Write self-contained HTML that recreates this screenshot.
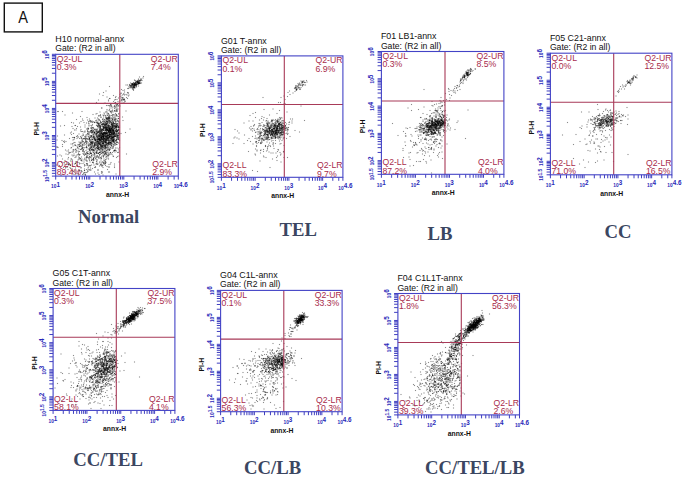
<!DOCTYPE html>
<html><head><meta charset="utf-8"><style>
html,body{margin:0;padding:0;background:#fff;width:685px;height:482px;overflow:hidden}
svg{display:block;font-family:"Liberation Sans", sans-serif}
</style></head><body>
<svg width="685" height="482" viewBox="0 0 685 482"><defs><marker id="d" markerUnits="userSpaceOnUse" markerWidth="2.2" markerHeight="2.2" refX="1.1" refY="1.1" overflow="visible"><rect width="2.2" height="2.2" fill="#000" fill-opacity="0.45"/></marker></defs><rect width="685" height="482" fill="#fff"/><rect x="4.3" y="3.1" width="38" height="28.8" fill="none" stroke="#111" stroke-width="1.4"/><text transform="translate(23.1 23.0) scale(0.86 1)" font-size="17" text-anchor="middle" fill="#111">A</text><text x="55.2" y="41.9" font-size="9" fill="#111">H10 normal-annx</text><text x="55.2" y="51.3" font-size="8.65" fill="#111">Gate: (R2 in all)</text><text x="220.9" y="43.5" font-size="8.8" fill="#111">G01 T-annx</text><text x="220.9" y="52.9" font-size="8.65" fill="#111">Gate: (R2 in all)</text><text x="380.9" y="39.1" font-size="8.85" fill="#111">F01 LB1-annx</text><text x="380.9" y="48.5" font-size="8.65" fill="#111">Gate: (R2 in all)</text><text x="549.9" y="40.8" font-size="8.85" fill="#111">F05 C21-annx</text><text x="549.9" y="50.2" font-size="8.65" fill="#111">Gate: (R2 in all)</text><text x="52.6" y="276.1" font-size="8.85" fill="#111">G05 C1T-annx</text><text x="52.6" y="285.5" font-size="8.65" fill="#111">Gate: (R2 in all)</text><text x="220.1" y="278" font-size="8.85" fill="#111">G04 C1L-annx</text><text x="220.1" y="287.4" font-size="8.65" fill="#111">Gate: (R2 in all)</text><text x="397.4" y="281.1" font-size="8.75" fill="#111">F04 C1L1T-annx</text><text x="397.4" y="290.5" font-size="8.65" fill="#111">Gate: (R2 in all)</text><g transform="scale(0.5)"><polyline points="218 267 224 240 228 247 214 277 217 275 208 271 227 262 216 267 208 239 162 259 222 275 224 257 198 252 199 259 234 273 201 230 210 266 222 276 226 259 212 284 196 284 198 265 179 278 208 279 223 285 200 281 207 295 212 261 217 244 226 282 221 290 235 275 221 253 202 259 212 248 227 251 219 274 210 281 207 248 221 265 230 252 200 283 207 274 203 275 199 294 219 266 225 261 200 269 237 252 225 254 205 239 226 265 226 251 208 291 222 257 223 257 195 290 220 261 209 265 209 240 227 289 201 252 217 258 211 283 227 262 220 273 229 267 221 284 233 255 204 259 226 260 229 247 234 238 199 289 215 254 208 261 210 285 237 255 218 300 233 268 235 252 193 283 214 272 198 281 207 250 235 247 191 286 205 269 230 269 201 270 210 253 213 264 216 271 203 272 219 259 229 271 218 270 204 260 196 278 204 266 233 252 203 258 196 283 239 255 223 260 234 231 211 260 211 273 202 289 193 264 221 287 226 261 209 280 215 272 202 261 216 261 232 254 226 275 228 255 182 243 218 260 192 296 209 296 233 262 231 296 236 272 235 271 214 243 237 261 220 273 202 270 212 281 214 276 197 276 208 272 212 265 221 265 208 266 197 295 197 249 216 261 214 237 219 254 213 279 207 275 226 257 233 229 214 285 207 247 218 256 225 260 215 251 220 265 225 270 186 274 213 267 203 272 200 247 208 270 217 251 239 268 212 254 236 278 212 260 228 290 219 273 214 276 228 268 224 274 236 272 215 299 224 252 195 264 182 251 210 265 216 280 223 266 210 274 199 276 199 271 230 247 220 269 185 265 223 273 183 272 237 242 191 280 219 257 213 249 187 274 218 260 219 243 215 259 222 248 213 259 210 252 192 245 222 256 207 281 212 242 210 272 191 269 220 261 233 258 213 276 218 251 218 280 210 263 220 268 193 302 216 261 191 267 213 280 187 274 188 277 194 268 234 263 236 243 195 246 237 259 232 288 208 307 213 259 222 261 215 276 228 270 224 259 195 267 204 292 219 274 201 256 208 267 231 256 238 244 215 276 232 264 233 259 224 256 217 240 217 277 238 269 260 258 226 255 208 273 237 271 224 264 215 280 229 239 205 287 215 252 214 265 200 280 227 246 201 242 193 273 227 261 210 271 188 286 211 279 226 269 232 266 211 256 217 265 219 257 205 260 217 237 217 263 212 254 201 278 205 273 232 243 237 279 204 261 219 260 203 265 218 261 207 274 229 272 183 273 233 249 224 287 191 281 211 267 203 262 194 240 200 279 232 272 183 265 223 264 213 271 227 273 201 297 199 278 225 264 199 250 209 277 228 274 203 273 203 276 207 258 196 247 225 254 219 266 196 265 225 270 236 254 173 294 198 251 212 284 229 264 213 267 237 237 225 251 226 253 214 259 197 248 227 269 219 236 220 256 209 267 234 252 203 249 226 278 212 282 216 280 219 286 173 294 200 224 226 262 225 281 217 255 220 260 187 300 196 252 217 253 231 240 228 242 216 295 188 294 208 243 237 286 219 245 220 273 234 279 192 280 210 249 220 281 221 262 211 249 205 258 216 258 225 275 223 254 228 266 224 288 220 285 226 279 214 239 232 272 212 276 205 274 208 255 205 248 214 248 200 282 198 263 207 260 231 240 192 302 219 258 208 272 234 273 207 269 226 267 226 236 224 265 223 262 222 263 202 271 213 250 211 266 201 272 225 276 221 277 215 245 221 272 205 268 239 252 224 249 219 236 233 268 219 272 199 260 195 252 223 249 207 254 194 282 221 272 211 298 215 261 213 294 211 293 214 260 200 252 203 295 231 262 210 298 223 290 200 263 216 270 195 282 228 265 178 247 225 282 188 277 219 278 224 250 197 290 216 277 220 266 221 244 214 276 207 275 228 267 207 266 230 287 232 254 223 266 205 260 213 248 194 292 219 270 215 292 215 247 223 269 221 276 193 307 228 260 226 234 218 286 218 251 231 262 182 271 235 261 226 242 229 273 232 283 237 267 186 275 209 256 222 245 206 288 232 257 212 273 193 295 220 273 210 285 236 278 201 281 231 255 190 258 208 249 202 267 201 259 233 253 228 273 207 267 196 278 226 247 227 258 207 265 223 267 206 282 206 282 213 284 221 262 221 264 223 292 225 256 233 263 219 264 225 249 208 265 207 260 222 260 210 261 222 252 211 293 233 247 217 286 216 271 206 291 218 253 234 251 234 263 205 295 208 278 218 280 193 267 222 244 222 268 223 274 218 256 202 276 201 274 203 275 211 249 207 248 223 258 214 236 190 274 203 267 208 254 201 285 205 269 228 252 221 243 223 245 221 270 216 272 225 248 214 274 222 263 234 250 226 285 204 270 219 270 227 262 220 257 207 253 229 265 198 288 205 277 218 264 204 278 190 275 203 284 187 261 213 268 189 265 215 259 211 265 227 245 224 267 199 277 209 265 199 274 239 270 207 286 237 253 212 247 195 297 214 244 195 265 177 273 230 273 202 294 205 243 190 286 195 312 231 271 229 221 203 268 215 244 207 255 205 264 238 246 198 279 220 255 226 267 204 290 228 236 193 268 235 241 220 269 229 283 231 243 221 265 231 273 236 264 200 286 201 291 238 259 203 277 232 278 183 261 205 259 212 295 197 272 217 270 223 278 226 245 204 291 214 265 212 267 222 258 232 270 199 261 215 259 217 276 210 248 200 252 212 279 215 266 219 259 200 263 225 238 185 288 180 275 196 277 228 281 226 266 226 246 229 285 186 298 174 283 235 260 214 260 204 288 231 252 198 287 231 252 226 239 192 261 210 288 225 253 204 282 222 250 182 262 214 243 229 277 203 264 200 273 205 249 186 285 208 265 208 268 223 256 194 276 232 238 211 269 204 283 232 246 215 270 206 278 210 259 216 284 202 260 220 231 211 251 223 269 209 250 227 278 226 254 213 240 209 268 233 280 238 227 209 248 218 272 225 275 198 276 226 258 207 280 220 282 239 281 213 266 218 287 205 269 213 278 222 242 199 267 212 276 233 231 216 281 229 241 233 249 213 267 194 280 222 261 234 267 205 254 233 253 231 246 194 270 236 250 209 255 207 272 223 281 221 223 230 255 197 292 208 255 218 272 216 271 206 269 208 295 214 242 209 283 208 268 198 263 204 273 222 253 228 268 193 260 202 276 205 267 242 267 207 253 228 272 195 253 215 272 217 261 195 292 229 238 187 257 194 258 220 264 208 257 216 281 189 278 211 256 219 239 215 288 192 271 209 277 231 268 235 285 202 234 207 276 208 284 178 275 204 284 203 281 204 290 214 256 211 277 184 285 206 277 196 278 218 236 211 290 204 292 196 272 226 248 227 284 212 282 207 258 231 250 199 284 208 268 189 274 225 251 199 252 218 251 188 292 227 270 195 279 209 292 208 275 204 263 197 232 213 246 205 248 202 276 227 260 227 280 230 250 193 266 202 322 212 274 219 257 200 255 232 260 225 262 236 274 219 282 224 272 229 274 205 271 197 276 217 263 216 242 222 256 219 256 228 265 201 245 229 252 199 248 212 255 229 252 225 232 214 256 221 261 205 252 203 284 234 255 201 257 194 288 224 277 192 286 207 282 222 271 202 275 238 261 200 288 210 253 228 263 235 261 213 257 221 269 228 279 232 253 218 285 234 271 214 266 225 269 210 266 207 273 214 257 219 262 223 257 225 263 226 264 218 242 191 279 219 269 205 286 220 263 225 305 214 288 215 266 236 271 223 265 218 232 205 279 190 293 230 291 196 252 208 291 238 248 237 266 222 262 217 264 206 268 216 262 194 279 221 259 227 280 210 251 206 246 203 279 213 288 208 298 214 255 207 277 192 241 202 269 194 299 188 266 198 246 212 246 200 287 200 304 229 301 227 282 194 260 185 255 229 257 239 264 211 242 200 273 213 261 214 269 197 283 233 260 227 275 211 273 218 246 222 241 231 262 218 300 213 273 204 273 226 274 216 256 237 254 232 259 227 282 238 265 218 254 223 277 219 234 232 269 233 302 238 255 218 275 225 260 205 294 213 263 211 285 202 277 189 287 246 241 215 268 204 248 217 270 208 245 210 294 220 264 214 274 230 267 211 256 173 258 193 290 207 282 236 267 216 255 220 259 195 296 180 298 207 273 215 274 200 266 236 277 207 261 202 283 203 275 213 259 223 271 226 277 219 276 218 290 175 263 216 310 218 275 210 303 210 268 199 279 217 257 211 322 206 286 204 274 189 259 228 266 208 276 219 267 227 275 182 307 178 318 214 271 205 302 216 287 200 290 211 245 235 269 194 320 189 265 201 296 171 308 179 242 197 287 223 287 234 222 214 247 236 274 176 279 165 298 218 253 204 299 211 291 186 286 198 278 245 234 189 286 182 279 187 266 216 287 175 307 199 305 185 279 186 301 187 310 189 310 200 299 205 293 169 318 200 305 191 282 170 309 204 302 219 301 226 279 189 335 211 270 188 292 213 289 222 279 210 325 209 322 170 264 225 279 180 288 142 288 193 305 204 275 215 256 171 279 178 279 193 286 174 269 181 304 193 296 201 279 206 287 199 284 164 292 174 284 189 302 233 275 228 256 198 271 230 253 166 268 179 278 170 308 202 279 186 290 197 279 190 259 186 283 183 312 170 262 180 271 195 280 234 289 206 298 218 310 251 265 212 256 197 286 165 289 209 309 217 286 224 274 202 296 206 284 198 296 220 298 181 282 165 294 218 263 220 296 226 260 188 292 217 289 213 272 137 300 161 299 181 241 198 279 161 317 194 305 214 333 182 287 228 251 184 291 193 205 184 279 176 290 232 254 204 253 205 238 218 260 209 246 158 310 181 297 221 285 226 297 193 251 210 308 221 261 226 283 201 253 223 283 197 247 198 273 179 283 230 301 228 302 185 325 213 285 193 276 231 301 213 313 223 284 210 268 183 294 206 275 235 284 200 255 186 304 208 326 215 294 209 328 193 306 208 318 222 278 198 298 151 327 176 268 206 324 185 290 160 309 198 315 184 277 178 269 172 301 186 299 189 307 210 289 212 301 176 310 217 277 186 299 197 269 190 310 210 284 226 312 210 292 198 266 217 284 199 279 227 302 151 291 188 279 151 324 162 335 192 291 172 270 198 231 214 274 216 311 202 271 227 267 196 264 184 260 220 299 194 314 179 300 169 311 221 289 200 295 183 295 211 281 190 297 213 258 223 236 222 287 181 294 156 302 227 292 187 317 219 262 174 323 171 276 196 290 198 296 177 307 182 284 210 279 177 264 172 319 181 289 184 264 211 260 195 293 198 270 208 304 200 264 170 349 222 281 180 290 212 315 129 328 189 314 212 273 164 280 171 284 197 264 206 279 191 298 197 288 189 289 201 262 194 250 225 242 224 272 227 283 195 275 233 278 162 288 189 265 229 257 172 289 204 250 199 269 218 306 178 290 194 311 235 248 227 262 207 286 213 288 169 285 168 324 173 327 181 290 203 292 164 296 225 276 199 264 199 277 180 332 213 302 191 278 168 303 176 343 191 207 231 288 213 309 213 237 238 275 214 279 211 285 179 238 219 247 199 280 190 284 205 267 145 341 159 246 190 290 189 276 195 287 199 271 202 282 206 286 224 309 196 264 216 316 214 260 156 309 182 261 221 285 154 292 206 305 229 260 189 280 174 295 208 279 213 291 211 271 229 234 208 291 184 266 200 309 200 286 183 271 198 255 205 268 159 277 212 312 239 267 166 291 212 267 218 275 189 266 192 228 182 256 218 299 201 292 201 243 223 278 222 246 184 283 186 284 185 287 230 299 173 287 211 259 226 294 205 324 132 335 198 349 176 266 230 304 170 274 217 284 148 311 137 304 183 330 208 288 211 268 211 276 196 285 173 308 198 253 204 298 200 285 195 283 183 287 183 296 166 277 172 308 189 266 216 304 204 250 160 317 221 259 211 296 204 293 186 302 218 329 173 316 221 269 238 324 199 257 229 279 198 300 176 272 184 284 231 273 180 263 200 278 227 281 195 283 173 295 213 249 216 246 174 304 225 274 206 279 187 317 209 282 217 334 192 290 213 243 200 289 143 318 183 321 200 326 228 270 181 294 170 316 227 266 222 294 200 272 179 296 201 289 170 331 187 315 173 292 195 286 230 281 185 298 186 294 207 287 229 328 188 273 180 313 218 264 195 301 196 244 210 303 219 289 199 310 183 299 179 321 203 279 208 301 195 289 192 318 159 292 184 293 165 238 203 276 200 309 201 275 187 269 231 236 194 263 216 249 183 289 199 240 164 297 235 305 190 288 178 339 156 297 219 258 217 280 221 254 196 273 145 344 205 279 202 307 209 310 172 277 155 274 180 302 222 258 219 284 204 312 182 285 211 279 177 257 193 323 196 297 184 312 141 305 211 261 196 293 190 291 193 314 233 284 229 288 214 262 204 333 207 284 217 290 223 249 179 266 148 275 202 288 182 285 226 253 225 281 183 257 176 258 219 269 197 299 179 300 158 318 197 238 208 272 200 261 207 289 174 298 228 264 187 305 202 303 201 330 211 291 205 300 220 285 183 292 175 314 215 277 233 285 233 315 190 262 168 320 167 270 212 253 183 254 202 318 227 276 181 274 218 273 186 324 217 318 218 288 207 280 208 271 209 293 201 293 201 268 197 250 188 330 183 282 192 285 215 291 217 262 193 327 192 259 180 331 166 284 167 277 179 277 190 299 180 287 172 274 213 306 152 312 173 313 196 297 202 267 223 268 200 281 201 315 194 273 196 256 205 284 166 295 204 291 197 284 167 309 187 318 229 266 115 294 198 277 197 292 232 261 202 264 167 288 224 259 200 305 204 216 206 230 189 279 174 235 194 273 196 314 202 248 209 277 201 255 225 267 235 262 238 279 199 287 217 296 213 281 190 281 218 308 224 237 211 276 199 312 187 274 197 297 184 285 193 288 175 267 195 296 208 226 218 274 192 305 203 306 184 251 171 282 201 252 166 307 205 305 226 243 145 332 179 274 208 255 191 281 184 299 162 285 162 327 185 319 206 287 171 280 212 295 210 297 210 282 152 304 172 272 195 292 179 277 164 286 175 342 225 282 224 275 227 280 211 234 228 286 195 294 216 279 203 329 211 285 222 307 182 307 216 253 209 251 206 272 189 245 228 248 196 285 168 306 149 276 180 242 215 288 159 303 193 270 234 254 198 241 183 285 198 279 196 307 211 323 210 303 187 255 225 255 182 301 203 261 210 290 220 309 213 254 211 306 178 277 211 326 179 318 205 331 201 291 218 298 206 298 152 314 181 315 207 270 203 266 165 290 193 268 185 263 236 276 157 274 228 253 186 282 207 236 228 273 170 295 214 305 203 275 224 266 174 311 202 302 226 282 202 267 182 306 212 325 200 267 210 328 199 273 208 257 175 261 140 330 195 236 212 251 203 297 182 273 214 268 179 281 158 334 151 336 194 271 197 295 147 246 177 286 223 274 183 244 139 305 177 316 148 349 169 329 181 296 144 341 182 340 213 211 139 277 123 325 190 314 185 256 148 279 237 298 184 286 201 258 159 310 225 229 163 321 146 280 154 310 179 315 204 294 173 305 192 242 143 245 153 273 203 245 211 257 183 311 201 230 191 278 219 344 232 348 167 299 200 300 183 299 176 331 217 235 130 230 220 216 204 298 184 266 166 283 207 293 187 326 182 300 233 280 180 305 131 336 129 270 225 220 136 339 142 296 196 339 224 290 135 334 206 305 153 324 174 314 132 329 129 285 157 314 233 280 211 305 207 185 168 264 178 292 163 277 208 249 166 303 212 307 124 281 221 295 158 309 175 327 182 275 161 233 227 294 169 287 206 330 167 300 214 296 186 260 208 321 166 301 204 277 160 285 172 345 192 328 162 292 155 295 186 243 168 296 174 331 161 291 162 284 181 244 163 341 219 173 225 294 203 317 137 330 154 324 143 295 214 301 196 341 223 291 173 315 220 258 203 293 158 284 144 337 157 290 149 275 196 328 203 314 229 301 207 232 203 343 139 327 198 299 171 350 156 325 159 293 173 328 163 298 176 263 165 263 150 315 127 283 214 236 238 276 197 272 221 238 197 307 183 320 170 273 170 254 170 277 169 304 173 282 150 289 184 287 214 300 234 263 169 277 190 296 200 300 191 264 145 275 176 315 190 236 187 263 196 282 181 282 173 277 170 346 158 298 159 341 217 263 153 239 146 257 116 223 180 307 150 341 214 228 184 264 165 296 180 264 213 252 211 255 176 257 234 296 194 324 207 242 224 297 183 262 193 263 208 306 141 322 150 251 211 331 196 346 211 295 150 291 140 335 152 298 162 299 147 333 150 285 175 277 217 286 155 324 193 284 217 264 180 331 207 327 116 295 212 288 203 331 222 325 212 280 177 268 206 310 125 318 209 228 184 309 181 336 136 329 184 242 238 259 230 213 191 348 167 346 116 223 206 273 154 330 194 320 203 216 232 229 137 325 169 341 165 280 162 243 155 253 212 287 212 267 234 271 197 200 164 272 153 301 197 314 201 262 178 250 224 251 206 242 189 290 177 246 184 320 175 306 164 322 179 300 219 261 166 241 130 321 156 320 189 291 218 259 188 306 144 253 113 330 150 300 159 326 181 285 217 344 145 320 141 330 149 260 214 259 180 290 156 294 207 267 135 333 233 289 138 307 189 264 146 312 164 343 202 316 204 292 231 238 198 317 156 347 129 282 210 239 199 188 213 318 211 327 212 309 157 350 239 295 151 251 216 312 114 280 147 343 190 289 213 280 196 307 188 320 146 304 182 261 200 232 175 307 144 322 212 182 158 268 162 293 198 239 156 289 128 325 147 267 161 287 134 302 125 289 125 293 215 339 232 253 221 285 125 223 237 256 209 243 208 303 145 226 204 264 192 280 175 329 191 317 146 300 199 305 147 299 176 336 177 290 250 203 190 289 143 264 157 307 161 262 221 305 152 260 129 251 197 286 159 293 176 256 185 270 154 277 197 262 179 309 182 307 186 229 174 279 219 334 195 275 216 308 186 301 185 279 162 276 155 332 156 348 202 280 207 311 227 249 205 272 218 293 187 272 221 328 189 344 178 252 200 281 174 286 210 267 185 249 188 294 187 319 238 312 202 270 206 191 189 277 174 345 191 335 151 299 159 288 159 315 206 270 180 324 229 332 206 272 189 308 207 313 180 340 136 318 141 266 115 312 174 321 163 344 179 313 220 286 207 325 194 244 169 345 177 292 150 344 168 245 140 346 119 331 151 327 122 351 229 335 136 309 172 321 187 270 195 328 153 257 185 245 188 300 144 310 215 276 207 269 217 202 234 219 183 316 216 250 187 295 157 342 196 272 228 262 142 318 234 251 204 307 197 306 234 264 186 325 145 328 177 334 214 297 182 307 208 277 164 223 182 256 204 258 232 281 203 326 159 328 123 312 210 283 185 337 167 348 137 315 146 287 163 275 145 288 200 288 205 344 230 284 168 278 226 273 190 306 161 254 148 275 147 302 216 312 195 260 154 331 120 310 144 304 191 333 218 282 194 245 149 328 161 320 184 274 173 339 164 318 198 279 155 271 141 331 141 337 211 307 158 318 127 335 203 346 216 287 207 257 213 256 169 290 184 294 161 273 235 313 221 305 132 308 163 314 181 264 169 341 177 243 233 264 160 341 206 335 188 244 206 350 173 246 194 329 204 287 194 227 184 260 176 259 223 278 198 280 166 327 152 304 171 350 186 262 121 252 194 303 196 247 113 294 166 271 137 328 221 280 115 272 157 304 165 349 169 332 176 340 189 245 133 324 207 314 237 305 151 347 163 263 162 336 148 285 172 283 146 292 169 338 201 265 211 319 158 340 201 329 199 324 227 313 172 285 192 314 187 321 180 279 188 301 189 270 231 281 124 349 132 283 143 269 163 320 148 308 232 209 175 240 164 282 131 300 194 246 238 302 228 269 253 308 213 256 180 340 137 328 159 289 199 332 178 297 166 283 170 250 178 299 176 303 204 346 196 265 165 302 211 236 230 248 211 224 232 223 216 237 231 232 220 197 224 216 214 236 215 226 214 219 248 199 223 222 223 213 217 200 236 213 216 235 208 231 237 196 226 214 202 245 237 233 227 229 214 222 221 208 233 212 218 250 229 217 220 222 234 242 226 207 218 241 219 242 231 195 232 216 240 212 214 194 215 239 235 222 223 211 234 210 229 211 223 226 219 219 233 220 239 208 224 258 234 199 220 234 252 222 232 193 222 223 247 199 218 211 207 207 234 216 221 261 226 246 223 247 233 222 218 221 237 211 219 212 219 197 219 230 216 211 213 224 213 236 211 246 225 222 211 231 217 227 218 234 219 237 243 179 230 222 219 241 226 224 229 222 216 242 231 205 212 232 229 213 229 230 215 231 217 228 224 247 234 233 220 236 227 203 230 215 214 238 227 191 231 227 202 235 237 207 222 209 225 239 214 237 237 228 216 230 210 206 217 239 217 237 222 225 229 200 223 231 221 210 237 237 221 212 226 231 236 218 217 234 240 202 240 189 232 212 242 192 257 186 258 190 261 166 246 181 248 200 249 206 249 190 252 170 231 199 244 204 255 197 244 195 249 180 248 200 242 187 245 190 247 188 256 177 239 206 230 205 236 207 249 199 253 195 257 192 248 188 242 186 234 210 243 199 252 189 236 203 245 198 240 193 254 190 247 206 235 209 245 196 248 197 256 186 245 200 246 195 242 196 250 202 259 169 232 220 249 184 243 201 266 175 260 175 264 174 264 172 279 161 264 167 268 174 267 176 270 168 273 172 276 168 269 175 266 178 268 166 278 166 275 164 266 175 267 170 277 172 270 176 262 176 273 169 269 171 273 168 278 167 266 169 261 171 268 175 276 166 271 167 274 163 266 167 275 164 264 167 267 172 271 169 269 167 271 172 273 170 277 164 265 170 258 176 272 164 279 154 278 163 265 176 271 162 279 164 276 163 283 160 278 166 255 185 273 164 267 174 264 172 255 170 267 180 268 170 277 162 281 166 276 166 278 161 269 171 266 173 283 158 269 160 269 170 274 162 264 169 281 160 267 180 265 168 270 170 267 165 260 170 276 163 277 167 272 169 275 166 270 174 278 165 266 170 262 171 269 168 270 170 272 166 275 164 281 158 261 173 258 173 271 165 283 166 280 166 273 172 270 170 269 169 284 161 269 168 275 169 263 174 278 165 269 167 273 174 270 170 272 170 287 153 274 163 277 166 263 168 265 178 256 177 269 173 271 165 272 167 262 175 277 167 266 169 279 164 270 170 273 170 265 169 267 171 270 166 274 164 278 167 269 174 261 172 274 165 279 161 266 168 268 169 266 167 274 168 275 161 268 176 270 161 281 162 276 166 265 170 259 171 272 168 277 158 278 167 281 161 269 170 272 168 268 174 275 165 271 170 267 173 268 168 277 168 280 167 278 167 286 156 277 166 263 170 277 160 264 170 263 172 560 245 538 267 540 262 525 260 536 253 520 252 565 260 548 264 563 253 555 252 557 265 552 260 539 246 516 269 554 263 537 257 533 259 539 257 551 265 559 253 534 263 530 265 555 244 567 276 543 250 528 263 568 247 569 255 542 267 561 278 559 258 545 254 544 266 550 262 539 258 558 251 554 265 546 259 537 274 554 266 542 250 551 239 536 264 559 251 546 251 578 245 542 275 599 264 552 266 569 258 536 277 538 246 564 244 555 257 563 251 562 272 551 275 532 251 539 254 552 262 539 267 551 261 552 274 551 276 555 276 545 260 568 263 552 256 566 269 524 245 550 253 543 259 520 263 528 253 562 249 560 246 542 253 514 278 563 264 545 241 556 238 551 267 572 257 555 243 546 260 585 238 544 269 515 257 552 253 560 261 560 257 546 271 552 263 535 250 546 263 559 247 547 274 566 270 550 270 558 278 548 267 572 267 555 267 541 270 555 266 570 257 560 274 533 254 536 249 534 257 576 267 553 256 563 248 562 248 547 265 568 254 552 270 555 255 522 276 547 252 546 266 546 289 553 257 531 263 549 269 509 261 546 256 538 258 577 255 550 247 563 270 505 273 544 263 532 263 570 254 559 235 555 270 550 251 553 266 549 258 559 255 560 261 551 275 538 262 573 248 544 265 533 241 584 242 549 250 547 257 526 253 536 271 571 251 546 262 568 255 533 261 562 250 556 270 546 268 527 280 571 252 554 261 552 262 564 253 536 263 561 245 558 249 558 247 542 266 550 263 559 261 543 259 575 262 567 264 575 258 528 262 541 251 536 248 544 249 559 258 557 252 562 235 568 253 567 246 561 237 559 267 560 257 534 277 549 260 519 273 549 253 555 264 539 259 545 267 568 257 544 251 552 259 555 252 565 254 560 265 563 268 543 240 564 263 548 277 544 259 559 249 542 264 511 272 549 268 569 249 539 279 562 265 543 252 530 275 545 260 517 275 570 258 545 262 557 261 549 256 526 259 544 259 568 252 563 260 545 263 535 248 551 267 530 265 556 266 526 272 539 265 564 261 547 247 543 276 557 276 547 266 552 254 568 261 548 257 528 281 555 254 535 253 565 248 563 249 551 266 557 257 528 268 523 264 548 273 555 258 571 256 543 276 537 266 536 259 538 261 555 269 529 269 560 250 533 275 581 238 543 242 549 251 520 250 554 257 521 268 562 254 539 257 551 250 560 266 560 239 572 261 568 257 561 256 542 266 529 251 564 265 556 263 545 271 544 242 565 258 564 255 536 242 529 262 521 268 541 255 546 264 531 270 565 251 578 249 540 269 559 248 549 264 562 269 553 259 550 263 565 256 563 264 540 248 554 243 539 255 548 254 562 266 560 270 528 271 562 268 531 261 552 254 557 243 530 276 535 269 562 256 552 247 516 259 566 260 541 262 535 274 554 260 539 256 548 249 554 258 552 252 553 264 554 252 558 260 534 237 556 252 535 247 545 274 548 256 567 259 563 256 502 260 554 269 552 261 574 258 542 272 536 269 520 267 528 250 561 249 536 256 536 270 559 270 535 264 541 271 532 242 557 260 537 252 544 270 550 271 524 277 548 268 525 277 536 280 541 257 555 273 545 258 562 244 553 265 560 264 543 265 538 257 576 259 524 265 573 277 539 266 561 261 529 261 558 263 558 274 516 263 539 260 555 241 565 255 558 273 538 252 548 257 528 259 534 262 551 252 549 257 558 247 553 261 561 266 550 267 554 241 590 261 536 270 554 269 541 254 556 253 558 264 542 278 550 251 554 261 549 264 554 256 558 253 549 272 550 245 539 258 567 255 538 255 519 240 543 276 557 265 547 264 539 262 539 266 535 261 534 265 544 274 511 265 555 251 559 275 550 255 564 258 541 261 551 265 512 276 553 260 542 253 557 249 563 257 551 277 527 250 555 258 564 261 562 251 542 264 536 263 548 268 538 279 516 266 556 261 557 262 560 259 537 264 544 242 531 266 525 257 556 254 523 271 546 266 584 246 567 251 559 255 556 248 550 274 545 277 550 274 542 269 557 248 551 268 571 260 540 264 534 250 542 256 564 256 553 256 549 250 552 247 538 275 554 244 544 268 554 260 553 270 551 244 543 262 567 266 555 257 535 250 552 241 543 255 558 267 566 269 543 262 552 267 553 268 552 265 579 244 557 264 531 255 552 260 544 269 540 261 536 274 565 270 545 270 544 261 547 263 540 263 544 262 519 275 551 270 560 257 552 262 563 258 537 254 556 261 548 270 553 266 576 260 531 260 566 241 535 260 538 263 555 260 564 269 566 258 533 261 549 250 564 264 552 249 564 241 550 255 547 264 519 278 522 267 565 264 533 264 552 244 558 247 545 246 566 254 536 244 556 245 547 253 530 273 521 272 547 257 576 255 568 253 564 281 559 242 560 238 542 244 567 242 554 255 545 269 609 241 560 254 548 258 563 258 530 256 533 269 561 259 535 268 527 271 551 266 532 256 517 254 564 236 534 260 532 268 552 263 531 267 543 269 537 246 512 264 531 262 553 251 519 270 530 270 536 265 564 256 569 275 535 263 565 266 558 274 547 286 468 276 546 286 506 242 517 281 548 297 488 287 513 293 551 287 517 285 565 251 534 245 559 221 478 266 546 306 554 275 514 302 524 282 520 247 521 265 550 257 535 294 547 292 560 288 567 264 557 252 557 249 533 269 555 303 516 276 519 266 527 312 495 281 511 310 507 252 520 260 511 235 559 282 522 271 518 247 508 251 538 304 521 285 521 306 505 262 500 231 531 291 553 315 551 250 575 269 545 318 555 253 512 283 556 241 566 274 541 293 534 279 543 282 505 341 562 267 528 279 580 273 515 343 548 260 499 256 478 278 554 227 536 251 568 315 512 285 522 251 498 242 534 284 528 219 470 259 511 225 540 257 535 276 524 285 510 277 537 274 556 244 536 275 561 310 571 252 527 240 522 265 528 235 541 270 568 291 531 292 518 277 514 259 502 253 567 303 523 282 511 298 539 230 532 277 535 300 489 270 498 277 535 297 506 227 514 287 531 279 565 246 533 274 524 233 534 278 568 267 546 218 501 283 518 251 474 276 562 287 536 293 535 270 527 303 540 335 534 257 508 258 573 255 488 246 529 268 552 306 554 321 536 270 522 300 548 241 546 239 539 261 546 281 567 304 574 224 526 276 544 242 575 315 527 259 568 265 497 303 532 315 521 287 523 278 518 264 512 284 531 293 555 312 533 302 521 257 540 291 470 274 521 301 466 287 531 266 562 275 562 324 557 300 522 278 562 308 525 279 527 299 506 288 522 287 602 212 523 237 566 278 547 272 528 314 513 291 561 265 534 272 544 247 502 258 543 262 529 268 561 271 543 267 546 248 519 281 520 273 513 283 551 281 509 249 505 257 520 322 560 305 537 290 528 280 539 286 533 247 546 262 510 308 542 306 514 300 550 252 550 261 475 262 556 299 551 273 559 248 556 239 523 286 574 266 533 278 571 245 526 195 608 165 593 179 602 162 592 180 606 162 602 175 599 166 589 177 610 165 601 178 592 172 604 166 591 175 599 178 600 179 593 178 607 169 608 162 590 175 610 165 605 165 597 176 602 168 614 164 594 176 594 176 593 180 613 161 608 170 592 175 596 171 605 171 598 175 605 164 597 169 605 164 601 170 599 170 592 173 599 168 605 169 590 183 605 172 606 163 603 164 602 171 597 172 593 180 594 179 595 173 591 177 596 167 592 171 598 175 611 170 568 208 570 207 568 192 580 189 561 205 575 193 586 186 557 205 562 195 576 185 579 182 570 199 886 245 863 248 867 267 864 249 884 249 870 250 874 252 858 241 877 266 871 264 889 244 876 259 890 245 881 254 876 248 843 247 868 247 857 251 885 240 872 233 877 246 872 255 841 254 887 259 866 251 859 258 861 252 869 244 877 250 885 237 859 245 856 239 887 246 890 249 857 255 861 251 876 247 870 258 880 243 861 254 863 256 889 247 877 246 868 268 888 239 895 242 870 253 868 251 877 238 871 251 848 251 882 245 886 250 849 265 898 240 854 252 860 273 858 254 877 264 868 245 848 261 878 262 876 241 858 245 840 270 859 269 864 260 884 250 863 249 879 251 916 242 871 247 864 239 888 254 887 235 888 233 871 247 856 265 840 251 859 255 872 267 855 260 849 257 864 246 860 241 866 264 894 230 885 246 854 265 883 241 868 250 862 263 863 255 914 245 872 260 862 267 864 241 883 249 873 251 867 250 852 243 860 253 854 268 874 258 876 243 877 247 869 250 875 243 878 242 851 245 868 259 870 267 888 248 871 256 871 257 865 243 896 247 868 265 863 263 875 248 868 245 890 238 875 244 870 252 873 252 876 241 883 250 834 257 854 253 873 260 884 252 876 230 870 241 848 266 871 243 862 261 842 270 861 263 870 266 871 240 881 239 873 246 870 247 867 261 873 254 853 250 881 243 869 241 886 242 877 237 872 267 873 257 871 248 872 249 836 270 858 256 874 251 900 260 866 259 846 250 865 244 866 248 866 268 889 241 858 243 883 237 854 253 888 245 874 238 880 268 846 250 878 244 866 268 850 237 851 262 882 256 852 249 857 250 881 241 863 269 868 261 873 243 859 245 885 252 863 256 893 240 887 247 845 249 876 243 864 265 877 249 872 242 883 240 889 254 853 253 876 246 866 260 849 257 860 253 855 251 872 230 870 257 878 247 874 257 884 274 879 245 863 259 870 249 868 246 863 247 857 253 877 249 887 261 874 245 880 257 854 249 874 256 882 251 880 232 864 253 875 247 888 232 867 259 875 254 864 264 866 255 857 271 889 239 862 251 877 255 882 250 865 240 855 250 866 258 858 257 873 244 863 251 889 243 867 251 882 251 861 260 844 254 874 270 888 247 887 244 896 258 867 253 864 243 871 239 866 248 879 242 880 232 886 242 858 248 845 264 865 246 867 261 871 249 863 236 889 244 865 266 884 247 854 252 872 251 876 244 889 250 856 259 838 260 863 269 869 255 873 261 896 249 883 245 891 244 881 251 872 259 888 231 890 251 872 235 851 276 865 256 882 255 864 248 887 245 872 243 879 250 885 243 899 238 840 261 869 264 878 265 846 258 879 243 854 260 889 251 884 234 869 258 855 255 882 251 869 255 868 250 862 248 865 251 862 264 881 233 891 246 860 254 853 256 885 248 881 248 894 254 884 244 880 267 864 237 866 267 871 248 843 251 893 235 855 253 878 250 878 248 875 261 872 249 860 252 866 250 886 250 884 247 857 270 870 246 845 257 870 247 872 244 851 254 846 240 886 230 844 250 876 225 841 254 866 257 853 259 872 235 855 242 867 246 873 242 859 259 863 253 876 250 857 252 880 254 846 261 910 259 850 259 859 253 865 247 877 239 884 247 889 248 856 259 877 257 870 254 881 245 871 255 847 265 864 251 872 249 884 228 872 253 864 241 879 268 868 250 886 248 866 256 839 247 890 258 878 243 869 262 874 262 886 254 870 226 854 247 872 250 862 269 892 240 856 247 852 265 854 264 864 251 853 250 870 266 870 267 851 270 879 256 891 240 842 265 864 244 869 266 856 247 870 245 854 255 882 245 870 265 858 264 874 243 873 253 877 263 860 240 871 242 876 251 895 251 861 253 875 270 856 248 855 251 849 246 852 254 884 240 858 250 859 255 864 262 873 256 860 256 853 237 846 252 877 261 872 243 869 261 861 259 843 262 856 255 841 248 885 230 877 252 887 235 854 267 878 242 855 252 839 259 892 262 863 264 881 265 860 279 886 243 882 250 860 234 858 257 859 251 874 250 862 255 850 239 881 250 875 245 883 235 883 241 856 263 871 244 862 267 852 262 873 249 864 244 875 241 868 261 881 246 869 253 876 251 890 251 865 249 842 263 847 257 891 247 884 243 898 252 863 242 861 247 880 236 880 247 882 249 874 256 848 260 890 246 875 245 862 255 866 254 886 249 864 259 857 262 880 253 886 247 886 245 883 241 879 253 873 260 842 256 872 255 863 252 862 244 876 246 886 250 857 260 857 263 890 237 884 225 849 264 873 249 866 269 876 258 868 232 865 247 863 250 837 277 853 250 866 249 878 257 889 231 872 240 857 259 869 251 888 242 870 250 874 244 860 259 859 247 879 243 889 252 880 258 859 260 865 248 879 244 882 248 879 245 857 261 880 246 850 247 875 240 868 254 864 254 866 238 871 253 842 255 865 240 880 271 868 274 870 250 876 248 877 246 883 254 865 243 876 246 874 257 866 254 860 241 856 256 878 257 880 228 871 265 865 251 863 267 855 265 857 259 875 248 847 258 885 247 874 253 859 241 884 240 860 233 868 244 880 251 860 254 889 245 878 243 876 238 861 260 841 250 842 258 863 257 864 243 864 245 881 251 889 245 864 262 890 241 866 258 859 259 889 261 883 239 883 246 855 247 881 254 866 268 873 248 878 256 877 260 872 292 832 289 861 251 869 265 825 294 882 239 869 287 889 223 848 214 863 280 868 249 844 299 838 253 833 323 840 301 847 267 853 247 869 248 837 219 880 248 842 279 880 287 811 267 850 266 838 323 852 297 872 230 882 280 839 285 880 261 863 264 853 271 837 273 829 291 847 267 868 273 847 265 860 221 872 279 867 266 874 251 863 346 873 283 850 303 858 299 887 232 881 270 820 332 884 304 851 279 785 247 860 256 866 252 875 279 816 216 820 255 836 305 832 257 861 298 847 319 820 319 868 298 815 257 885 223 868 300 877 308 870 282 849 311 853 278 886 243 841 323 868 283 867 285 846 227 863 244 864 274 831 286 860 262 821 281 843 297 879 286 891 221 878 232 818 306 871 258 811 272 851 251 866 245 858 247 857 295 828 290 889 265 850 294 832 288 834 262 863 295 868 244 931 277 889 261 879 305 827 285 853 280 851 263 823 221 870 264 845 276 862 253 879 255 878 287 856 304 860 238 887 263 828 290 861 257 884 282 867 284 862 278 856 288 863 297 872 279 853 263 859 312 863 265 890 233 847 301 881 280 865 274 857 260 842 235 824 272 881 252 857 246 874 289 871 255 885 242 881 233 872 277 863 299 848 179 859 232 884 292 849 254 812 256 864 203 864 289 858 265 854 269 881 248 876 268 857 269 852 264 818 314 871 242 871 254 887 271 865 265 834 290 839 255 831 285 860 290 845 302 882 296 873 242 858 254 875 311 867 305 901 256 831 263 872 248 890 230 880 247 796 271 827 331 884 229 862 320 834 306 853 286 851 278 846 243 863 296 885 317 853 238 877 314 936 220 811 291 834 254 861 231 841 259 821 305 838 259 869 238 858 295 852 323 855 270 807 315 878 265 884 259 846 258 851 306 854 229 866 226 880 241 849 278 846 287 883 241 877 295 810 284 870 284 854 271 880 288 822 283 843 258 830 257 894 288 839 264 869 279 812 272 806 297 848 256 823 209 806 301 853 326 841 235 849 279 822 269 842 282 845 308 807 263 859 240 857 281 888 221 874 223 885 211 889 210 881 206 876 216 863 227 878 227 874 250 865 237 873 208 885 223 871 221 875 222 880 201 869 209 870 221 865 235 864 211 879 238 873 221 883 235 868 225 876 220 882 203 862 244 874 226 869 239 889 205 880 216 871 218 866 212 882 213 878 213 882 221 878 207 881 217 882 195 872 233 872 222 884 213 879 229 884 205 884 211 887 201 874 222 930 152 937 152 926 155 934 145 929 153 935 151 925 154 934 147 933 147 951 138 946 141 935 149 936 151 931 146 933 146 920 164 935 152 934 142 934 150 925 156 923 158 922 161 941 137 941 147 940 139 932 152 926 152 921 158 932 143 927 161 933 160 941 142 943 140 935 155 937 142 934 149 935 145 926 159 936 148 937 150 938 149 933 145 933 147 937 146 929 155 935 147 929 156 935 150 929 151 929 154 929 152 927 150 940 146 932 157 935 146 940 149 950 138 938 142 927 154 925 156 936 150 939 149 928 152 936 140 921 161 923 165 929 155 937 145 936 140 935 150 942 139 936 146 933 150 942 138 934 145 928 154 936 148 930 159 940 141 930 148 926 164 944 143 934 145 930 152 935 148 941 147 933 149 938 150 941 143 929 150 913 176 891 187 908 185 914 171 898 179 910 182 903 191 915 181 900 196 907 180 919 173 906 182 919 170 920 179 915 171 897 177 909 177 898 183 902 181 911 186 916 174 921 162 899 189 926 167 893 199 899 201 922 159 921 167 913 176 910 173 1225 249 1226 235 1181 238 1215 229 1226 239 1237 243 1221 235 1215 235 1204 239 1218 250 1239 233 1217 237 1221 241 1202 240 1196 247 1223 248 1214 245 1232 222 1200 262 1203 269 1201 242 1200 251 1187 261 1197 231 1232 246 1188 255 1220 239 1196 231 1204 246 1222 232 1213 245 1218 236 1221 229 1226 259 1224 225 1208 246 1198 237 1204 251 1213 234 1204 249 1217 236 1214 247 1201 249 1234 237 1227 241 1209 255 1227 248 1205 239 1210 243 1218 233 1242 247 1208 235 1207 251 1221 253 1234 241 1228 246 1223 230 1214 234 1247 230 1222 232 1206 243 1213 251 1209 232 1222 245 1226 239 1192 247 1205 247 1208 238 1198 238 1181 240 1198 250 1228 224 1194 243 1238 227 1218 248 1211 220 1243 229 1245 231 1198 248 1227 245 1204 243 1209 239 1202 247 1256 230 1194 251 1206 253 1216 252 1198 237 1230 229 1224 256 1211 239 1185 233 1190 248 1216 244 1189 259 1229 240 1210 248 1232 238 1223 248 1221 226 1222 239 1206 247 1207 246 1213 252 1214 231 1231 247 1214 248 1233 226 1208 242 1198 246 1199 228 1206 244 1227 232 1217 224 1215 244 1223 250 1200 257 1256 238 1225 241 1234 243 1214 237 1213 240 1201 246 1213 237 1213 241 1189 257 1216 230 1198 251 1212 241 1251 233 1194 251 1217 237 1223 247 1242 241 1214 235 1207 242 1222 241 1228 253 1190 255 1221 243 1212 252 1238 223 1226 242 1212 218 1227 233 1213 243 1214 229 1215 221 1184 239 1230 240 1200 254 1220 244 1211 237 1212 242 1202 261 1200 241 1210 232 1195 236 1205 227 1194 236 1225 248 1223 243 1216 247 1192 243 1203 241 1225 238 1221 251 1210 238 1183 240 1195 240 1224 250 1199 245 1224 227 1217 243 1201 251 1174 249 1205 236 1188 236 1208 240 1224 244 1221 238 1208 231 1218 241 1198 255 1215 250 1225 233 1217 232 1228 245 1208 244 1227 249 1215 248 1203 254 1191 249 1176 244 1202 249 1206 242 1219 245 1202 244 1198 252 1219 235 1222 239 1225 246 1224 250 1203 235 1222 241 1223 241 1211 242 1199 248 1231 240 1216 253 1177 240 1205 256 1227 226 1203 242 1204 237 1233 241 1216 239 1216 245 1199 230 1220 239 1220 247 1225 238 1185 242 1234 236 1225 246 1212 252 1231 228 1234 235 1203 240 1214 240 1216 233 1200 240 1216 252 1226 227 1187 249 1223 233 1195 254 1206 245 1228 248 1205 262 1222 244 1207 240 1225 233 1190 235 1246 232 1199 241 1211 261 1195 243 1219 232 1216 240 1236 229 1193 233 1204 254 1221 243 1207 257 1212 248 1212 242 1213 250 1219 239 1201 255 1231 236 1216 243 1200 231 1206 241 1220 242 1214 243 1223 238 1218 250 1188 239 1220 240 1219 244 1223 256 1213 244 1189 246 1211 242 1221 249 1207 223 1241 241 1244 241 1185 249 1195 241 1206 235 1254 215 1239 232 1200 247 1214 230 1223 239 1203 250 1222 242 1198 258 1215 244 1202 244 1227 232 1238 234 1191 237 1204 239 1216 249 1189 245 1216 238 1217 243 1213 246 1217 251 1190 242 1224 236 1196 251 1197 247 1216 242 1195 239 1203 250 1206 234 1191 238 1188 245 1227 229 1200 250 1201 239 1228 245 1209 248 1191 246 1220 233 1210 234 1204 246 1242 234 1198 249 1214 244 1207 238 1202 248 1222 238 1221 220 1199 255 1224 241 1233 231 1182 247 1210 245 1201 242 1222 226 1189 238 1219 259 1211 240 1203 245 1214 242 1191 251 1198 252 1200 246 1225 234 1227 323 1181 266 1218 284 1221 290 1135 245 1192 278 1191 298 1167 320 1147 289 1188 287 1219 270 1195 306 1196 219 1160 283 1191 254 1224 260 1203 239 1193 252 1190 260 1189 286 1256 309 1193 269 1174 288 1174 254 1177 324 1201 303 1170 278 1186 272 1211 275 1186 263 1180 262 1195 322 1255 249 1181 286 1163 224 1210 280 1160 255 1202 285 1191 325 1198 292 1222 274 1199 299 1196 292 1152 269 1209 293 1206 247 1208 272 1212 305 1147 317 1198 232 1178 271 1188 265 1180 283 1202 304 1220 221 1170 335 1224 305 1214 278 1214 275 1195 278 1183 280 1164 252 1176 301 1208 320 1172 289 1205 264 1222 261 1221 252 1201 248 1125 270 1185 272 1179 270 1201 251 1188 284 1196 239 1203 279 1197 240 1163 257 1206 282 1180 302 1200 294 1178 224 1159 328 1195 209 1261 166 1260 167 1264 157 1259 164 1264 162 1257 165 1262 167 1261 170 1263 158 1257 164 1256 166 1266 158 1266 161 1274 156 1260 160 1266 157 1259 166 1267 155 1272 154 1268 151 1252 171 1255 167 1251 173 1266 154 1268 153 1259 162 1254 163 1255 161 1255 164 1259 165 1257 165 1267 158 1274 150 1264 165 1266 156 1271 153 1272 155 1261 162 1265 159 1271 155 1237 181 1237 185 1239 178 1252 169 1264 158 1238 183 1248 172 1232 192 1241 173 1245 170 1249 178 1235 183 1243 178 1257 164 1246 174 202 742 214 727 218 734 195 731 225 738 228 719 181 739 231 724 198 727 203 727 214 723 225 722 218 720 203 748 203 747 199 738 196 719 202 740 184 723 225 723 199 718 201 746 221 708 232 720 197 764 190 733 183 723 210 721 222 724 210 714 206 736 227 718 225 737 230 719 208 720 182 755 193 722 215 738 212 707 211 739 208 746 229 764 229 747 207 728 223 736 232 724 186 726 207 730 212 726 224 726 218 749 232 727 203 718 197 744 213 735 208 743 219 719 216 743 217 713 218 716 205 732 215 704 225 742 201 719 220 710 211 736 235 721 230 725 230 730 220 736 213 740 219 724 198 739 213 720 223 758 218 729 236 727 207 744 219 734 209 738 217 736 202 743 214 707 207 740 225 729 221 723 228 711 223 723 195 747 196 728 200 742 193 737 191 730 226 724 224 723 225 732 199 738 212 738 222 723 222 730 194 735 223 735 209 722 215 694 210 731 171 746 226 733 216 705 197 747 210 704 231 718 229 738 205 731 225 738 209 730 208 715 226 712 210 719 214 738 227 724 225 746 190 739 217 724 231 701 203 725 214 723 203 749 219 735 220 740 214 722 213 726 209 726 195 689 207 735 203 740 222 711 223 722 213 747 190 731 205 744 221 718 216 723 220 717 234 734 219 719 211 713 225 744 229 721 219 723 210 718 181 755 226 744 197 730 214 711 204 762 199 726 208 746 231 744 206 715 211 714 219 745 222 743 217 759 219 728 209 737 218 705 197 745 216 731 193 735 199 739 225 734 216 736 231 725 228 740 191 718 250 725 221 721 201 713 226 722 231 724 208 725 204 754 220 762 216 726 200 743 228 706 205 720 229 720 204 728 205 723 226 719 205 725 196 755 228 710 206 728 207 727 213 731 216 751 168 741 224 751 210 739 228 738 224 734 214 738 198 730 226 702 226 730 219 733 216 762 180 707 209 723 179 718 222 754 196 734 198 719 223 730 218 737 200 721 212 718 221 717 194 774 195 733 210 731 226 733 189 755 205 730 228 715 224 740 215 727 233 727 213 712 203 734 210 721 214 746 210 713 207 706 229 721 228 733 202 776 199 715 193 727 233 731 232 721 213 721 211 736 229 733 228 724 212 700 225 716 213 732 226 735 225 738 229 715 202 749 193 742 219 708 228 718 209 708 195 712 213 705 218 734 207 736 220 720 214 754 221 727 208 728 225 737 184 730 212 719 223 710 226 720 217 722 208 742 229 713 207 730 212 726 222 713 212 705 201 726 218 733 217 705 221 744 226 722 210 729 208 707 214 724 214 722 233 718 214 748 212 747 199 755 224 748 216 737 204 729 206 738 191 723 219 756 217 722 227 727 199 705 204 740 205 717 223 717 196 726 223 701 194 719 230 733 210 719 201 722 213 703 197 742 227 742 199 741 211 715 192 747 215 714 205 733 218 711 222 744 208 727 202 724 209 736 210 734 206 753 211 722 193 746 213 729 207 733 213 736 208 742 214 735 197 714 220 731 232 714 194 716 223 720 218 712 222 718 202 720 243 712 203 750 216 743 222 729 211 740 220 731 232 731 214 729 218 739 209 713 217 739 206 733 208 762 225 725 226 702 206 743 203 732 200 743 202 738 219 723 205 718 222 722 196 742 223 720 215 745 216 705 222 718 221 747 225 714 208 728 204 741 219 743 199 744 221 741 194 731 200 737 233 720 231 729 190 741 229 747 213 733 204 732 226 745 231 749 201 742 193 728 211 738 224 688 215 741 231 713 178 725 207 733 201 725 193 717 209 717 211 716 213 731 190 735 202 718 208 759 207 730 212 738 192 764 213 750 219 741 209 755 214 791 204 767 186 765 192 761 214 728 206 745 209 701 168 778 205 764 205 748 201 758 158 772 163 762 200 766 213 770 217 763 207 761 202 782 159 780 231 725 227 718 165 732 235 735 233 737 206 726 175 756 225 757 198 763 164 779 176 776 214 749 194 747 191 743 217 752 225 752 193 777 204 773 217 690 228 751 218 721 186 758 204 749 203 741 184 725 196 721 222 760 187 779 172 775 192 783 193 788 188 805 181 775 196 768 224 711 195 771 207 749 201 755 202 754 167 769 192 731 216 772 214 723 196 739 202 789 227 798 183 792 231 703 195 729 229 731 216 767 191 756 169 762 183 756 200 766 161 776 191 773 203 724 189 778 190 741 204 779 193 760 211 759 222 776 197 752 201 759 154 755 213 757 210 753 219 734 190 752 179 775 154 747 202 753 188 751 212 734 222 714 211 741 189 731 222 740 207 760 195 743 190 719 201 729 159 776 202 754 191 751 232 756 208 709 185 764 213 709 183 753 228 732 199 736 164 729 187 762 172 705 208 731 196 789 210 712 173 738 202 732 208 773 200 749 172 738 151 809 218 713 207 734 205 754 210 699 165 689 212 716 211 785 178 724 208 704 179 763 226 762 197 770 168 748 180 764 214 781 222 732 199 752 172 743 152 782 182 774 192 718 190 755 223 769 203 776 179 777 227 735 226 759 188 777 196 742 215 727 210 752 201 728 161 743 208 810 198 788 185 752 208 748 225 736 196 748 195 745 207 729 212 749 159 740 232 762 214 711 200 752 171 785 206 708 203 755 211 718 195 764 167 793 211 773 175 781 210 749 187 739 207 765 230 714 199 782 174 776 203 747 215 736 224 758 190 768 219 731 178 800 171 774 174 748 159 785 214 758 161 745 194 754 180 739 206 738 197 744 219 757 184 798 183 751 202 779 185 764 182 817 179 774 164 745 225 726 181 778 219 811 204 752 197 699 202 730 222 771 202 742 183 765 200 744 199 759 215 699 173 763 183 728 221 749 211 750 250 706 198 789 209 748 188 718 191 774 192 782 180 790 216 703 209 739 194 766 191 762 190 754 204 741 197 774 214 737 216 737 216 743 229 742 228 749 202 717 209 736 200 756 198 765 184 758 238 764 162 755 192 747 203 773 175 736 195 750 207 745 203 717 212 753 154 778 190 725 232 760 207 745 204 754 163 752 176 778 215 743 191 722 169 784 210 770 161 788 183 791 206 726 179 744 218 716 189 789 170 732 229 735 196 721 210 698 209 741 218 745 223 747 185 722 204 742 216 757 189 749 198 729 196 760 208 777 226 734 205 759 196 757 188 734 184 756 163 759 222 726 191 772 196 753 213 741 184 706 221 737 185 753 202 743 248 741 203 782 206 745 182 757 203 732 224 747 199 765 191 750 150 748 212 761 206 783 186 784 212 730 183 786 166 773 196 775 205 691 185 784 201 762 194 766 193 723 178 760 221 723 180 740 200 711 213 746 193 747 195 782 194 763 202 755 193 754 190 728 178 740 221 735 207 757 186 751 240 742 210 745 213 731 216 745 183 756 194 739 197 735 201 746 190 803 191 737 220 755 183 755 230 755 174 756 177 781 193 775 179 701 183 781 212 744 205 793 217 735 216 739 168 731 195 763 197 748 219 768 166 793 230 743 184 741 210 758 180 754 209 758 219 770 220 745 204 744 158 763 190 733 216 795 230 733 177 711 179 723 192 743 195 753 187 778 182 776 220 801 214 753 221 769 214 742 196 790 199 715 194 734 152 726 210 664 222 776 202 774 161 758 176 723 229 773 191 737 181 796 192 771 205 733 155 771 175 731 191 716 224 794 232 748 200 807 152 780 152 790 163 698 174 758 196 731 114 756 199 719 138 736 198 741 214 769 179 754 163 770 195 752 166 782 206 683 167 772 150 727 166 789 219 744 176 693 186 717 152 804 122 708 232 665 192 765 191 765 177 699 210 746 214 760 158 692 188 768 202 753 203 728 166 735 123 802 231 791 173 770 188 795 231 749 194 748 209 742 163 705 186 704 191 751 201 796 279 754 185 739 233 765 211 767 180 741 209 714 169 718 212 770 200 723 197 742 211 761 230 733 142 775 191 780 214 706 222 778 205 773 195 684 219 718 222 759 215 730 172 720 149 720 194 705 200 709 175 737 147 711 172 797 186 774 147 766 232 728 225 714 154 773 210 741 205 696 212 736 126 761 172 760 164 708 223 729 187 741 174 700 200 779 217 744 158 743 223 748 229 755 158 759 179 712 144 798 190 735 182 786 187 751 179 771 211 694 177 729 203 784 183 712 133 788 171 752 200 712 209 793 148 716 229 721 195 761 169 734 193 763 212 750 227 757 186 770 206 683 224 788 176 778 201 774 214 727 198 750 209 739 218 760 216 767 177 808 176 776 158 683 201 694 166 783 134 791 198 760 209 758 168 766 130 759 173 731 199 780 171 776 206 761 201 787 167 743 141 727 207 708 193 728 173 696 205 762 193 795 205 720 110 776 207 770 125 747 180 754 211 768 196 727 208 747 269 724 206 777 220 703 176 777 173 735 202 736 142 764 181 753 127 762 204 756 197 765 161 727 186 726 210 728 180 806 197 720 143 771 200 742 165 790 219 719 202 737 172 788 204 750 155 773 171 742 188 770 158 787 145 722 214 738 206 719 189 777 210 739 170 776 171 723 155 793 193 723 188 758 178 795 229 704 206 672 138 747 210 743 169 690 215 739 200 753 158 744 172 742 168 751 216 683 164 790 152 731 208 744 157 767 195 714 196 772 226 712 115 767 193 700 197 726 172 778 188 776 196 806 144 809 207 737 198 786 188 745 180 806 214 736 202 817 186 770 224 811 191 749 178 794 209 749 162 774 188 749 213 765 152 725 226 709 173 760 188 781 216 717 205 802 171 730 185 727 210 753 122 745 143 802 143 812 160 798 181 760 154 734 194 760 220 685 215 741 216 676 205 724 155 771 147 775 223 695 197 678 193 667 229 710 185 759 205 764 176 746 179 756 261 641 269 635 274 632 271 631 247 645 263 634 249 641 263 641 272 623 269 636 247 652 257 638 277 622 264 633 256 639 270 628 263 628 270 637 285 620 289 617 264 642 261 637 266 632 250 641 263 632 256 643 258 640 247 645 277 622 246 642 247 642 265 637 251 646 261 635 257 640 260 642 271 630 280 624 261 633 259 641 262 631 263 637 258 638 258 644 260 638 253 636 261 636 259 640 275 629 266 637 263 637 286 625 281 615 263 634 257 634 252 641 264 629 257 636 272 632 273 626 259 644 270 631 268 634 238 662 253 641 264 633 261 641 261 638 264 632 263 648 268 623 265 634 264 635 251 644 273 629 274 626 262 637 267 632 258 638 260 640 266 627 259 639 261 633 270 634 257 647 269 628 245 643 253 636 273 625 272 627 264 635 265 637 265 632 257 637 270 641 273 628 268 632 253 640 256 642 248 648 276 628 273 627 268 625 253 637 282 624 247 651 273 627 273 630 257 646 262 632 254 648 263 643 259 645 268 630 278 626 282 619 248 643 267 629 259 636 265 632 248 647 241 648 246 641 273 624 253 648 271 629 264 637 269 629 257 637 273 627 264 635 264 637 269 639 265 639 253 646 259 632 266 631 263 634 255 637 262 637 253 642 266 632 259 639 265 630 268 634 268 629 266 633 268 633 259 649 270 624 268 638 266 634 263 632 278 622 256 638 280 626 290 617 265 637 260 642 245 645 263 627 265 636 252 643 254 639 247 654 274 636 252 651 260 636 271 638 275 633 261 632 260 640 266 633 254 638 256 643 249 648 260 631 248 634 265 629 271 626 256 636 265 631 267 637 262 637 274 622 259 631 270 626 258 636 278 622 264 638 254 636 261 637 266 638 269 632 258 641 276 621 263 633 276 633 256 642 267 634 258 638 268 623 259 639 259 640 262 634 266 639 264 638 260 631 270 629 271 625 278 622 259 626 258 640 281 622 261 633 276 632 266 636 265 634 253 645 241 652 260 636 262 635 260 641 261 633 261 632 263 640 265 631 262 637 251 641 265 633 263 633 255 639 248 648 265 636 266 632 277 630 259 640 269 629 273 628 259 641 276 629 279 620 256 634 268 624 255 634 270 635 227 657 260 643 279 623 274 629 269 624 295 608 264 639 253 640 232 667 255 644 250 646 282 626 261 637 252 645 265 635 264 629 265 636 279 627 265 638 268 638 270 631 254 639 270 638 257 633 275 628 266 624 243 650 276 634 263 629 267 639 251 644 278 620 257 639 266 632 258 642 272 631 259 641 262 638 272 627 266 640 264 640 276 625 249 648 273 629 282 627 263 637 274 627 256 644 265 636 265 631 250 642 246 653 276 627 243 653 268 630 260 635 262 636 274 623 262 633 264 633 272 630 265 631 252 647 269 634 282 620 253 641 266 636 254 645 251 654 272 628 264 638 267 638 268 639 265 626 273 630 267 632 264 633 236 647 250 642 260 637 259 641 249 643 265 636 262 631 276 625 259 641 267 629 254 640 263 636 250 654 246 649 270 625 242 653 266 637 261 644 259 640 262 638 266 635 268 634 259 641 261 636 257 644 257 638 246 642 252 642 250 644 260 640 273 623 265 623 253 638 248 646 247 644 251 641 284 622 259 636 249 651 269 633 259 642 281 621 271 627 274 631 268 630 266 635 258 641 263 633 276 615 276 626 266 635 265 631 267 638 251 644 261 635 267 635 265 629 266 636 284 628 272 631 256 640 255 645 260 643 261 637 270 631 285 621 261 642 249 646 259 640 269 636 272 630 261 637 281 629 266 628 278 623 274 630 276 629 271 625 259 640 241 655 275 623 254 644 257 641 271 626 278 617 276 626 262 638 270 626 255 639 258 635 274 619 252 644 247 649 259 643 267 627 257 643 261 638 267 630 247 651 285 616 257 646 278 622 252 647 268 642 269 632 274 627 276 627 265 632 245 650 267 636 258 636 259 644 272 626 248 643 286 625 264 630 259 637 270 633 274 627 262 642 270 631 267 632 258 640 267 633 259 642 267 631 261 641 239 658 233 664 242 654 223 676 236 653 230 662 228 661 216 665 236 654 247 636 235 657 238 660 224 670 241 643 245 662 235 664 242 648 232 652 229 666 238 657 232 659 247 646 231 663 241 657 237 668 233 655 226 663 232 663 222 669 223 649 565 719 579 723 586 721 563 715 538 715 547 737 551 722 527 736 571 734 555 728 562 714 564 722 559 736 553 734 549 735 562 714 550 717 545 741 557 725 565 719 549 730 549 739 560 722 564 727 549 716 574 735 553 730 577 713 542 727 572 724 558 708 555 744 559 723 572 709 552 710 556 713 588 713 570 724 563 726 574 737 552 712 543 724 538 720 550 725 540 725 539 729 582 718 582 706 565 731 574 707 535 713 567 724 565 731 558 713 543 726 555 721 558 723 543 726 574 710 569 719 563 717 583 715 560 707 550 719 550 738 576 721 567 719 570 720 544 729 557 723 571 714 552 735 563 719 560 723 545 700 544 730 548 724 538 743 545 727 560 733 564 728 558 729 564 716 567 727 563 729 562 708 567 724 566 728 551 730 550 720 565 720 546 731 561 737 555 732 549 723 533 722 554 737 532 717 540 723 545 730 557 711 554 724 546 737 556 721 557 728 565 725 560 737 565 716 550 718 571 720 567 697 555 701 558 712 564 706 553 718 550 729 549 706 553 718 554 719 564 721 536 712 566 724 559 719 547 736 567 717 562 730 552 739 547 715 550 724 560 717 556 725 551 732 555 725 556 726 560 725 560 724 565 726 562 725 533 727 569 719 559 724 563 720 561 706 534 731 554 721 573 710 556 736 566 730 575 718 578 731 556 729 559 689 535 726 565 713 558 716 577 707 554 731 540 718 555 716 585 717 572 728 591 701 551 730 549 729 547 741 558 707 553 729 539 721 564 699 565 734 580 718 547 717 557 728 543 728 566 716 562 730 586 724 556 716 563 721 576 707 559 724 567 712 570 730 543 720 565 720 564 715 573 708 552 744 546 717 549 728 550 713 566 714 564 700 563 728 563 727 542 739 551 739 551 738 555 720 560 719 582 716 576 721 552 719 540 721 573 715 556 719 544 730 547 735 554 743 540 717 584 706 581 709 537 743 563 734 578 726 571 712 538 720 583 711 555 727 555 722 554 716 578 724 560 740 559 721 543 728 546 738 568 721 544 721 543 723 576 727 562 731 562 719 566 719 553 728 553 702 561 728 553 734 562 717 547 715 560 709 565 728 551 724 589 726 582 705 565 711 558 714 559 723 568 734 554 730 559 719 539 735 546 749 560 713 584 716 563 728 556 723 564 730 566 721 535 734 552 744 560 745 564 728 571 725 557 722 541 706 566 726 547 722 590 731 551 714 563 706 579 713 552 721 538 737 558 704 559 720 567 734 550 725 544 734 568 737 550 720 542 716 550 727 557 719 565 715 561 727 546 737 554 727 548 729 563 729 546 717 567 722 550 739 557 718 539 740 563 711 557 714 564 732 548 722 537 723 562 722 568 687 538 737 562 736 567 698 529 709 563 720 540 748 558 724 559 716 543 737 583 696 566 717 554 720 530 729 574 693 544 724 564 728 556 722 563 722 564 702 529 737 550 717 547 739 558 722 559 721 556 710 548 741 555 735 562 711 603 717 564 735 567 720 580 716 527 717 528 731 558 719 550 713 554 732 555 722 572 725 590 706 527 718 549 727 564 718 544 735 557 723 556 738 548 721 567 739 552 730 580 702 551 733 567 721 559 735 547 721 569 720 563 706 560 730 574 728 543 738 559 722 565 729 534 736 555 725 555 724 575 724 576 724 549 711 544 745 545 746 561 730 550 739 574 717 546 728 564 728 585 726 554 720 528 730 583 712 552 740 588 711 581 711 562 716 559 730 581 722 555 718 571 720 550 711 536 714 569 724 561 709 565 724 552 724 533 726 544 737 558 737 535 720 561 726 564 732 541 735 567 714 548 721 529 717 571 720 553 715 570 724 541 729 565 723 539 720 547 725 530 727 519 713 509 755 539 740 519 729 540 728 540 713 523 737 563 718 493 738 506 719 510 717 528 721 499 740 545 712 529 733 534 717 490 727 519 749 531 723 533 720 543 713 527 722 516 727 535 721 522 725 524 746 532 719 511 732 537 726 540 728 535 728 493 762 519 715 533 742 523 725 526 703 531 742 507 728 501 722 496 730 546 728 551 731 546 687 543 702 485 754 501 752 564 716 552 725 509 712 537 731 502 732 509 732 531 734 546 718 560 732 466 735 545 723 546 707 528 735 545 700 535 716 538 735 475 732 540 700 505 744 494 757 506 743 539 717 531 722 529 733 531 739 552 723 547 733 514 735 529 745 544 720 509 749 516 733 531 742 536 717 484 727 501 738 553 703 486 745 475 747 484 727 523 710 541 743 487 731 512 722 531 717 537 735 507 741 545 732 523 717 567 727 520 721 537 721 562 716 525 711 525 730 515 732 537 715 476 747 500 740 529 725 547 740 559 708 533 709 509 741 477 736 556 714 459 760 569 702 499 731 546 714 540 706 548 708 535 723 521 728 525 726 474 732 488 719 498 721 537 736 535 704 479 718 553 723 538 726 516 721 521 730 558 697 539 727 529 725 505 722 527 717 495 745 510 731 548 748 542 709 554 718 552 755 555 789 523 757 491 790 520 800 519 763 546 751 531 784 566 776 567 803 518 698 526 773 546 774 531 725 501 747 556 749 518 758 534 726 527 795 469 765 552 779 502 766 549 810 504 756 542 762 511 726 505 760 572 774 514 796 544 790 514 780 521 789 502 740 538 730 531 756 555 735 518 712 506 717 514 784 543 753 529 799 545 737 528 801 534 745 533 739 554 741 557 724 526 783 500 811 548 769 562 741 528 777 490 726 544 727 513 801 522 744 530 729 546 780 556 696 555 732 536 761 541 718 507 744 539 745 521 770 526 796 523 797 548 765 531 785 541 782 565 744 525 741 529 775 503 703 505 812 502 795 546 786 511 705 537 757 534 749 516 752 539 754 533 785 592 761 502 818 522 772 542 750 505 796 551 714 537 748 552 790 525 718 537 744 556 738 553 748 552 730 551 762 506 774 506 752 514 791 498 787 524 731 526 734 547 766 514 765 552 743 527 805 566 737 511 785 546 732 540 746 538 744 532 736 541 805 531 789 547 775 518 772 546 755 498 806 560 713 536 729 531 790 555 766 546 741 535 785 554 777 534 798 532 698 515 803 551 747 518 768 546 766 531 764 492 762 545 773 530 752 545 780 494 800 549 782 545 705 524 741 584 757 528 753 535 797 551 737 523 771 526 749 521 743 537 733 511 773 525 758 527 779 531 743 563 723 558 728 546 783 563 755 559 736 541 786 538 725 526 741 566 753 519 798 534 739 566 730 528 783 522 777 521 771 510 805 563 768 556 784 576 749 533 762 471 758 554 760 558 752 562 724 560 815 549 781 556 747 503 787 541 785 568 754 495 768 504 810 561 755 532 720 493 732 529 790 535 795 567 766 552 817 532 743 560 701 537 743 555 783 523 762 528 818 531 730 526 768 554 756 529 784 551 777 526 729 507 812 555 758 540 768 481 769 527 780 524 743 525 794 543 756 532 774 541 735 565 733 550 767 558 720 530 762 546 755 531 769 556 707 531 722 601 638 604 640 608 635 597 643 603 636 598 644 604 639 593 636 593 651 593 638 602 641 603 636 591 646 593 649 601 635 601 637 595 645 601 632 609 631 606 639 600 639 606 634 594 648 602 640 604 633 606 635 606 642 596 641 603 634 597 638 602 638 595 650 606 644 599 637 598 638 595 641 605 635 609 635 601 634 599 642 593 646 600 635 599 640 597 645 603 639 594 645 610 630 581 650 599 633 608 632 603 636 602 641 609 634 593 642 596 647 595 637 595 641 598 640 602 641 588 643 600 644 600 631 609 628 606 632 606 649 603 632 599 643 594 651 604 636 596 637 601 638 601 639 594 646 603 639 602 630 596 632 601 645 588 641 600 641 599 642 599 639 597 639 597 640 600 639 593 643 592 646 601 646 595 644 605 641 607 635 606 640 600 643 602 645 605 639 601 636 604 636 601 648 602 635 615 634 604 632 605 636 606 645 601 642 601 637 592 638 597 645 603 637 596 652 599 637 605 634 597 645 602 642 591 637 611 633 602 641 602 634 597 643 598 636 592 641 601 645 593 642 596 647 602 636 604 638 599 639 605 643 597 634 604 639 597 651 601 633 593 639 603 642 607 634 595 644 613 633 599 642 598 646 607 633 595 643 604 639 592 645 607 640 595 645 594 643 609 626 590 641 603 640 605 632 601 638 601 639 590 655 599 641 605 630 590 646 596 643 604 631 609 637 595 641 598 637 597 641 603 639 602 640 600 632 602 641 604 640 606 633 603 638 595 647 589 637 601 644 608 633 595 643 601 640 590 654 598 644 601 637 606 633 603 632 600 646 607 627 601 641 604 632 595 638 607 631 603 636 602 642 606 640 591 642 598 633 597 644 598 639 606 631 600 639 596 642 597 647 600 637 595 646 599 646 602 637 600 640 605 639 599 634 607 634 598 639 593 637 603 630 610 634 602 634 606 635 608 636 607 637 599 630 604 635 599 641 600 644 606 638 605 625 604 632 597 634 597 647 608 639 595 641 607 634 592 641 600 630 609 639 602 636 616 633 595 653 604 632 602 639 597 638 604 640 599 641 600 639 596 645 596 643 614 635 607 629 597 638 604 639 590 643 607 633 596 644 602 640 612 635 597 640 603 633 596 642 605 640 582 663 581 668 578 671 583 663 579 659 585 663 584 656 570 677 581 655 591 652 586 663 579 673 588 656 564 676 586 658 590 656 582 673 577 666 580 655 570 671 584 657 570 667 594 660 563 682 583 668 914 725 902 773 879 740 901 743 894 770 895 747 880 742 922 754 880 793 908 745 907 729 887 764 889 748 899 695 913 731 880 807 920 740 917 718 903 745 915 748 882 750 872 736 884 762 896 725 904 717 913 719 896 721 885 758 882 763 881 752 903 749 905 759 919 756 887 783 876 768 904 765 920 759 935 752 885 757 899 751 915 737 908 752 892 781 904 729 860 811 863 754 915 725 917 724 894 789 864 729 907 810 883 683 868 756 869 771 882 769 920 761 870 779 885 732 912 791 903 713 868 758 855 761 893 782 896 727 881 737 865 748 890 757 883 767 918 730 920 756 868 771 890 739 890 731 891 736 916 755 879 780 888 777 858 752 865 732 907 711 876 767 884 710 873 740 868 775 914 779 897 745 895 794 882 760 900 760 902 762 901 742 893 773 897 739 860 779 882 732 895 743 913 745 898 745 891 731 869 761 885 772 887 765 865 782 915 726 877 783 909 743 857 786 883 795 878 766 893 749 883 727 890 754 890 797 859 740 882 740 865 750 884 736 892 766 885 777 895 740 851 736 896 782 885 725 925 711 908 789 875 817 904 776 911 748 852 767 888 740 877 737 898 717 890 749 861 783 900 743 855 801 899 783 886 746 909 772 926 786 897 755 862 764 878 743 900 750 888 731 904 769 872 789 896 719 883 754 903 799 851 724 887 753 898 757 907 793 884 776 859 768 899 744 880 779 889 780 872 766 906 757 874 769 903 747 918 771 864 761 871 764 872 757 922 792 910 744 933 690 912 761 908 776 920 708 877 719 880 761 878 769 891 757 870 779 868 785 865 711 878 758 883 723 865 818 880 748 910 710 910 731 914 731 920 734 874 752 905 711 894 764 910 739 860 767 861 791 861 742 852 727 865 751 892 764 879 812 899 728 898 707 854 745 869 798 905 777 915 737 896 759 853 802 910 762 900 784 873 743 869 748 894 771 873 725 897 769 874 786 874 760 866 751 877 768 851 823 866 768 897 776 872 731 854 776 895 746 881 718 887 783 909 767 885 704 899 750 864 767 877 758 913 698 889 768 861 807 887 766 895 772 871 764 887 743 900 719 913 719 917 755 913 784 860 775 897 728 862 758 872 724 874 735 903 726 891 759 876 732 899 725 946 711 867 731 901 742 867 738 859 776 917 742 875 774 842 773 904 757 842 749 896 747 886 787 920 697 902 774 899 721 923 727 893 769 894 760 872 717 909 773 880 757 900 800 869 764 879 772 902 747 902 746 872 773 855 753 896 768 885 748 913 779 893 780 877 732 916 752 916 771 903 782 883 755 863 731 892 771 891 783 867 796 876 741 906 733 907 677 920 766 886 747 869 742 890 776 854 818 911 748 895 758 880 757 920 733 911 699 871 770 907 746 881 705 913 787 879 760 910 782 889 759 883 712 884 800 855 779 918 706 888 764 887 781 920 742 907 756 869 756 893 756 862 723 898 764 895 752 922 776 881 802 910 743 901 724 870 751 888 748 917 753 891 781 919 768 887 782 901 771 901 746 867 816 883 800 859 782 894 786 888 731 871 792 866 743 895 729 901 747 885 753 896 762 897 758 876 726 882 770 892 740 901 736 913 757 874 778 897 729 891 695 907 718 929 788 908 777 895 755 870 750 889 735 903 713 907 730 897 727 910 791 877 774 907 749 916 749 901 753 888 737 896 775 920 750 893 756 920 782 880 756 918 770 905 742 882 761 861 759 894 771 910 739 885 742 858 789 908 740 899 752 878 721 877 796 891 733 882 775 874 722 869 736 858 772 904 746 868 769 901 757 888 752 893 758 892 760 919 754 863 773 881 770 899 740 874 731 905 761 896 779 914 773 891 751 894 756 880 707 915 752 887 749 904 773 891 767 879 747 867 734 869 764 886 750 890 758 919 761 865 750 876 791 892 727 892 763 910 748 899 785 904 745 899 756 888 783 912 777 869 763 900 762 903 713 854 758 913 734 881 708 912 748 893 787 862 773 854 800 883 727 888 728 887 785 901 734 892 803 906 740 920 766 873 783 902 752 905 778 873 809 917 747 890 768 897 806 835 773 864 773 870 719 874 795 873 785 854 757 859 796 902 788 854 769 860 751 830 755 864 801 909 704 837 790 869 731 876 738 904 792 865 729 889 736 881 739 908 742 892 742 866 752 888 798 893 789 888 731 830 812 879 718 879 755 875 708 876 813 907 816 868 768 807 819 862 809 875 745 912 699 856 805 915 755 876 794 852 747 870 733 914 798 854 755 859 768 855 757 862 745 891 748 896 796 840 766 901 802 864 797 908 774 882 726 880 718 859 804 859 781 869 770 874 755 906 734 822 744 850 795 916 739 889 729 868 758 883 783 849 800 865 775 860 818 891 784 888 777 872 747 862 717 883 806 859 759 852 743 878 714 837 775 880 735 866 723 877 774 864 799 867 739 851 765 863 754 883 751 886 686 857 818 894 706 848 797 838 815 915 773 885 774 857 773 897 759 802 789 866 787 865 809 820 796 848 759 903 692 850 772 870 776 870 713 867 807 911 733 890 768 868 812 840 792 896 740 894 764 866 813 839 803 881 799 855 802 871 763 902 689 864 741 840 779 841 727 862 780 829 771 878 751 898 808 926 677 843 788 859 749 870 736 891 810 839 770 913 713 895 775 895 803 883 819 919 734 882 723 892 777 895 735 883 773 853 766 894 815 868 727 870 782 850 758 879 737 916 738 828 810 875 758 891 748 851 729 890 753 856 784 891 736 905 719 871 770 889 743 853 780 907 752 900 749 885 777 890 767 854 802 845 767 900 760 882 770 870 799 889 796 896 718 877 775 900 765 885 761 819 794 893 770 910 728 857 725 839 803 861 802 863 736 915 702 834 795 882 767 907 707 874 748 870 729 868 801 831 781 861 718 882 741 848 807 898 774 892 752 849 805 870 739 865 737 910 719 876 739 859 734 843 760 911 719 834 801 897 815 827 769 912 701 881 782 875 723 888 749 877 761 867 773 873 741 900 711 898 760 838 800 876 769 904 747 873 719 846 809 866 734 911 772 865 787 866 760 835 762 906 774 859 778 850 795 848 786 883 779 883 759 858 815 859 752 847 797 882 745 871 775 914 741 858 762 846 739 915 756 868 716 890 793 856 733 908 793 901 737 861 780 879 812 907 723 905 718 884 785 880 779 870 816 893 747 884 731 826 810 812 802 873 772 841 744 876 783 842 768 911 779 854 732 863 737 861 738 892 744 869 778 900 723 841 768 857 798 862 744 896 770 848 771 870 758 862 824 838 778 855 744 885 738 879 731 867 766 883 770 913 722 839 825 920 687 908 703 900 723 918 681 917 700 915 708 917 694 899 720 915 689 913 696 891 705 898 724 912 673 911 700 913 712 907 711 904 687 891 705 915 683 901 713 916 676 885 742 909 699 912 685 919 710 911 693 908 700 912 686 923 684 903 709 919 689 907 697 912 680 919 677 888 728 908 677 908 688 908 692 912 703 897 719 909 675 918 679 915 701 916 684 911 690 911 699 904 716 900 702 911 668 918 674 906 680 902 683 916 682 917 679 899 710 898 716 919 686 912 681 903 709 906 696 906 703 913 683 910 698 919 677 914 696 925 695 901 706 906 684 895 716 909 707 919 667 914 689 912 718 897 718 914 689 904 693 923 678 913 711 906 716 917 701 898 716 906 702 921 686 898 701 913 687 903 693 919 691 902 713 911 691 895 719 906 689 898 700 907 699 905 692 898 706 895 721 917 696 920 679 916 697 901 709 917 689 922 683 909 702 914 694 902 715 908 695 921 682 899 704 910 688 917 688 906 707 900 717 910 685 904 698 917 680 899 713 900 710 910 695 924 689 903 695 910 695 916 703 909 712 914 691 904 695 902 696 912 717 900 712 916 691 909 682 894 728 917 686 905 697 911 692 915 708 907 688 899 708 899 685 911 695 912 689 906 685 929 676 922 693 903 700 903 696 903 707 913 701 894 718 910 716 894 719 924 698 891 722 912 689 902 712 915 700 924 686 901 712 910 695 908 698 917 670 910 695 910 699 903 702 914 690 920 699 918 706 934 663 948 651 948 642 948 645 922 671 940 660 951 645 957 646 950 645 937 654 953 645 954 641 951 650 944 651 949 649 960 647 938 662 940 650 965 640 955 647 958 640 966 637 957 637 949 654 940 659 947 649 946 653 934 663 953 649 939 655 957 640 952 646 957 650 941 649 940 660 934 659 940 657 944 654 956 643 932 669 950 653 949 639 929 670 937 651 946 646 939 659 951 653 946 650 956 643 940 661 955 641 940 650 944 661 948 657 956 641 954 648 943 652 933 666 945 649 951 658 944 648 943 656 951 650 949 642 948 655 944 650 953 650 950 649 946 646 952 641 946 651 954 646 967 634 945 654 951 658 951 646 948 636 959 636 940 651 941 656 944 646 959 638 938 655 947 647 960 642 956 645 939 660 945 654 954 633 948 651 967 638 941 662 940 653 918 671 954 649 939 657 937 662 944 653 953 652 936 658 953 639 950 651 962 640 951 645 938 664 945 653 957 647 941 656 954 644 949 643 951 651 953 642 942 663 946 656 947 647 943 660 946 655 941 648 948 650 942 652 961 639 938 665 951 654 943 653 950 636 949 656 958 637 956 647 959 638 957 641 948 649 959 643 952 648 948 644 965 634 948 660 959 649 943 653 936 658 953 645 956 654 953 645 951 651 945 650 950 649 940 653 957 644 952 656 961 642 957 643 948 654 937 661 964 631 957 653 959 640 939 666 931 659 962 642 952 645 947 652 947 650 957 641 946 659 957 641 935 662 945 653 942 655 935 657 940 650 940 656 954 651 951 646 951 646 955 646 937 658 952 651 956 644 943 655 950 650 947 649 955 648 939 646 936 655 941 660 935 653 955 645 948 650 941 647 958 638 952 654 933 668 947 655 944 652 939 662 944 652 947 650 966 641 955 652 945 657 936 659 960 635 947 648 952 646 941 662 962 643 959 644 958 641 949 655 963 649 940 649 951 653 938 660 959 643 929 668 946 654 941 654 965 634 959 640 951 655 936 660 953 647 941 654 942 651 945 654 960 638 943 644 942 655 956 642 955 641 958 640 954 641 968 638 942 657 945 651 957 640 956 645 942 641 960 652 958 649 937 660 951 648 944 653 947 652 959 637 951 657 953 644 951 654 947 656 943 655 935 661 945 650 945 653 947 649 939 657 946 654 943 661 948 650 950 650 956 635 953 649 954 652 938 648 965 635 945 653 932 652 964 649 958 639 951 660 963 636 938 666 948 649 951 651 956 644 935 657 950 644 953 636 941 648 957 643 944 647 962 643 936 654 952 650 919 668 945 651 945 652 954 642 931 662 952 652 951 646 968 640 943 649 948 657 955 646 957 648 958 633 938 653 965 640 937 660 947 645 937 661 955 650 954 647 948 651 943 654 947 658 950 641 946 653 948 652 952 655 958 642 946 655 950 655 955 646 955 650 961 643 959 639 949 644 956 645 950 642 940 650 958 647 951 638 947 650 967 640 918 674 944 650 946 656 939 656 944 654 950 647 952 638 958 649 941 655 949 653 950 647 961 642 944 655 956 642 935 661 945 651 921 661 946 657 965 638 940 652 941 659 954 644 962 640 936 659 943 655 950 640 951 645 955 646 960 641 941 661 957 645 979 628 948 656 946 658 950 653 961 639 947 654 934 664 953 643 962 630 961 651 943 652 944 650 958 640 942 655 948 650 948 649 946 646 940 661 954 656 940 654 939 658 963 639 945 637 944 649 939 657 939 659 937 653 937 656 955 638 944 651 953 639 939 661 947 641 938 654 948 645 963 641 943 656 955 641 966 631 948 648 944 654 943 651 949 659 954 656 946 654 960 646 953 638 927 672 958 637 956 655 932 665 951 652 963 644 941 649 954 649 942 660 956 646 939 665 940 659 939 654 952 645 944 644 951 640 936 645 939 656 963 631 940 643 947 645 938 658 941 660 953 650 952 646 938 657 946 659 948 652 958 643 946 653 961 637 952 642 961 641 943 646 953 652 946 660 950 652 955 651 936 657 943 651 950 651 946 652 937 666 948 644 948 653 937 657 950 648 942 653 943 653 959 642 943 661 953 642 950 649 950 644 950 649 954 641 952 654 941 652 948 647 951 654 948 652 951 646 956 637 954 651 954 638 944 661 954 656 963 642 943 652 949 650 932 658 954 641 951 645 940 655 943 657 958 645 944 658 950 640 966 649 948 647 960 643 956 644 946 655 949 653 947 642 958 637 935 666 937 655 940 656 942 653 958 637 959 642 944 649 934 661 948 656 954 644 955 655 965 626 947 658 944 650 952 644 955 644 949 644 936 665 939 654 954 647 944 652 964 621 957 641 947 649 951 649 948 648 942 658 939 649 934 665 945 651 934 669 935 662 944 643 954 655 941 662 959 635 958 643 948 642 963 632 944 652 939 659 938 645 953 643 961 640 961 641 931 666 940 656 954 644 927 667 948 644 951 647 959 645 947 646 952 652 946 659 962 633 942 651 950 652 951 650 943 661 932 664 949 656 913 673 922 665 925 667 926 675 909 684 929 675 930 666 922 667 928 670 934 651 918 669 925 658 921 684 924 678 911 683 937 664 916 673 915 681 933 671 919 687 920 682 921 672 921 667 927 660 911 672 924 676 927 672 923 681 919 675 946 664 932 673 923 665 940 659 931 670 932 660 919 673 928 657 929 665 911 683 929 661 939 658 915 671 930 678 931 656 911 685 923 670 923 688 924 678 930 674 930 661 921 686 918 668 906 677 927 673 938 664 916 673 927 676 936 672 935 657 932 659 930 670 900 694 918 674 936 672 919 673 921 676 927 671 939 660 934 661 921 667 914 681 912 679 931 664 936 664 919 680 927 681 911 690 918 687 927 673 921 669 935 660 921 672 915 688 916 671 917 680 923 677 932 672 918 675 931 673 916 688 929 662 921 686 933 668 926 669 912 683 918 687 922 679 919 678 921 686 914 673" fill="none" stroke="none" marker-start="url(#d)" marker-mid="url(#d)" marker-end="url(#d)"/></g><path d="M55.7 103.4H178.3M119.8 54.3V176.1" stroke="#a83a58" stroke-width="1.1" fill="none"/><path d="M55.7 176.1v3.5M65.95 176.1v3.5M71.95 176.1v3.5M76.2 176.1v3.5M79.5 176.1v3.5M82.2 176.1v3.5M84.48 176.1v3.5M86.46 176.1v3.5M88.2 176.1v3.5M89.76 176.1v3.5M100.01 176.1v3.5M106 176.1v3.5M110.26 176.1v3.5M113.56 176.1v3.5M116.26 176.1v3.5M118.54 176.1v3.5M120.51 176.1v3.5M122.25 176.1v3.5M123.81 176.1v3.5M134.06 176.1v3.5M140.06 176.1v3.5M144.31 176.1v3.5M147.61 176.1v3.5M150.31 176.1v3.5M152.59 176.1v3.5M154.57 176.1v3.5M156.31 176.1v3.5M157.87 176.1v3.5M168.12 176.1v3.5M174.12 176.1v3.5M178.3 176.1v3.5M55.7 173.34h-3.8M55.7 170.71h-3.8M55.7 168.57h-3.8M55.7 166.76h-3.8M55.7 165.19h-3.8M55.7 163.81h-3.8M55.7 162.57h-3.8M55.7 154.42h-3.8M55.7 149.65h-3.8M55.7 146.27h-3.8M55.7 143.65h-3.8M55.7 141.5h-3.8M55.7 139.69h-3.8M55.7 138.12h-3.8M55.7 136.74h-3.8M55.7 135.5h-3.8M55.7 127.35h-3.8M55.7 122.59h-3.8M55.7 119.2h-3.8M55.7 116.58h-3.8M55.7 114.44h-3.8M55.7 112.63h-3.8M55.7 111.06h-3.8M55.7 109.67h-3.8M55.7 108.43h-3.8M55.7 100.29h-3.8M55.7 95.52h-3.8M55.7 92.14h-3.8M55.7 89.51h-3.8M55.7 87.37h-3.8M55.7 85.56h-3.8M55.7 83.99h-3.8M55.7 82.61h-3.8M55.7 81.37h-3.8M55.7 73.22h-3.8M55.7 68.45h-3.8M55.7 65.07h-3.8M55.7 62.45h-3.8M55.7 60.3h-3.8M55.7 58.49h-3.8M55.7 56.92h-3.8M55.7 55.54h-3.8M55.7 54.3h-3.8M55.7 176.1h-3.8" stroke="#2828b8" stroke-width="0.9" fill="none"/><rect x="55.7" y="54.3" width="122.6" height="121.8" fill="none" stroke="#4343c6" stroke-width="1.1"/><text x="51.1" y="188.3" fill="#2828b8"><tspan font-size="4.8" font-weight="bold">10</tspan><tspan font-size="6.3" font-weight="bold" dy="-1.8">1</tspan></text><text x="85.16" y="188.3" fill="#2828b8"><tspan font-size="4.8" font-weight="bold">10</tspan><tspan font-size="6.3" font-weight="bold" dy="-1.8">2</tspan></text><text x="119.21" y="188.3" fill="#2828b8"><tspan font-size="4.8" font-weight="bold">10</tspan><tspan font-size="6.3" font-weight="bold" dy="-1.8">3</tspan></text><text x="153.27" y="188.3" fill="#2828b8"><tspan font-size="4.8" font-weight="bold">10</tspan><tspan font-size="6.3" font-weight="bold" dy="-1.8">4</tspan></text><text x="173.7" y="188.3" fill="#2828b8"><tspan font-size="4.8" font-weight="bold">10</tspan><tspan font-size="6.3" font-weight="bold" dy="-1.8">4.6</tspan></text><text transform="translate(48.7 182.1) rotate(-90)" fill="#2828b8"><tspan font-size="4.8" font-weight="bold">10</tspan><tspan font-size="4.9" font-weight="bold" dy="-1.8">1.5</tspan></text><text transform="translate(48.7 167.27) rotate(-90)" fill="#2828b8"><tspan font-size="4.8" font-weight="bold">10</tspan><tspan font-size="6.3" font-weight="bold" dy="-1.8">2</tspan></text><text transform="translate(48.7 140.2) rotate(-90)" fill="#2828b8"><tspan font-size="4.8" font-weight="bold">10</tspan><tspan font-size="6.3" font-weight="bold" dy="-1.8">3</tspan></text><text transform="translate(48.7 113.13) rotate(-90)" fill="#2828b8"><tspan font-size="4.8" font-weight="bold">10</tspan><tspan font-size="6.3" font-weight="bold" dy="-1.8">4</tspan></text><text transform="translate(48.7 86.07) rotate(-90)" fill="#2828b8"><tspan font-size="4.8" font-weight="bold">10</tspan><tspan font-size="6.3" font-weight="bold" dy="-1.8">5</tspan></text><text transform="translate(48.7 59) rotate(-90)" fill="#2828b8"><tspan font-size="4.8" font-weight="bold">10</tspan><tspan font-size="6.3" font-weight="bold" dy="-1.8">6</tspan></text><text x="117.6" y="196.9" font-size="6.8" font-weight="bold" text-anchor="middle" fill="#111">annx-H</text><text transform="translate(39.1 128.8) rotate(-90)" font-size="6.8" font-weight="bold" text-anchor="middle" fill="#111">PI-H</text><g font-size="8.7" fill="#a82c4c"><text x="56.7" y="61.8">Q2-UL</text><text x="56.7" y="70.2">0.3%</text><text x="177.9" y="61.8" text-anchor="end">Q2-UR</text><text x="150.83" y="70.2">7.4%</text><text x="56.7" y="167.2">Q2-LL</text><text x="56.7" y="175.3">89.4%</text><text x="177.9" y="167.2" text-anchor="end">Q2-LR</text><text x="152.28" y="175.3">2.9%</text></g><path d="M221.4 104.5H342.9M284.3 55.9V177.3" stroke="#a83a58" stroke-width="1.1" fill="none"/><path d="M221.4 177.3v3.5M231.56 177.3v3.5M237.5 177.3v3.5M241.72 177.3v3.5M244.99 177.3v3.5M247.66 177.3v3.5M249.92 177.3v3.5M251.88 177.3v3.5M253.61 177.3v3.5M255.15 177.3v3.5M265.31 177.3v3.5M271.25 177.3v3.5M275.47 177.3v3.5M278.74 177.3v3.5M281.41 177.3v3.5M283.67 177.3v3.5M285.63 177.3v3.5M287.36 177.3v3.5M288.9 177.3v3.5M299.06 177.3v3.5M305 177.3v3.5M309.22 177.3v3.5M312.49 177.3v3.5M315.16 177.3v3.5M317.42 177.3v3.5M319.38 177.3v3.5M321.11 177.3v3.5M322.65 177.3v3.5M332.81 177.3v3.5M338.75 177.3v3.5M342.9 177.3v3.5M221.4 174.55h-3.8M221.4 171.93h-3.8M221.4 169.8h-3.8M221.4 167.99h-3.8M221.4 166.43h-3.8M221.4 165.05h-3.8M221.4 163.81h-3.8M221.4 155.69h-3.8M221.4 150.94h-3.8M221.4 147.57h-3.8M221.4 144.95h-3.8M221.4 142.82h-3.8M221.4 141.01h-3.8M221.4 139.45h-3.8M221.4 138.07h-3.8M221.4 136.83h-3.8M221.4 128.71h-3.8M221.4 123.96h-3.8M221.4 120.59h-3.8M221.4 117.98h-3.8M221.4 115.84h-3.8M221.4 114.03h-3.8M221.4 112.47h-3.8M221.4 111.09h-3.8M221.4 109.86h-3.8M221.4 101.73h-3.8M221.4 96.98h-3.8M221.4 93.61h-3.8M221.4 91h-3.8M221.4 88.86h-3.8M221.4 87.06h-3.8M221.4 85.49h-3.8M221.4 84.11h-3.8M221.4 82.88h-3.8M221.4 74.76h-3.8M221.4 70.01h-3.8M221.4 66.64h-3.8M221.4 64.02h-3.8M221.4 61.88h-3.8M221.4 60.08h-3.8M221.4 58.51h-3.8M221.4 57.13h-3.8M221.4 55.9h-3.8M221.4 177.3h-3.8" stroke="#2828b8" stroke-width="0.9" fill="none"/><rect x="221.4" y="55.9" width="121.5" height="121.4" fill="none" stroke="#4343c6" stroke-width="1.1"/><text x="216.8" y="189.5" fill="#2828b8"><tspan font-size="4.8" font-weight="bold">10</tspan><tspan font-size="6.3" font-weight="bold" dy="-1.8">1</tspan></text><text x="250.55" y="189.5" fill="#2828b8"><tspan font-size="4.8" font-weight="bold">10</tspan><tspan font-size="6.3" font-weight="bold" dy="-1.8">2</tspan></text><text x="284.3" y="189.5" fill="#2828b8"><tspan font-size="4.8" font-weight="bold">10</tspan><tspan font-size="6.3" font-weight="bold" dy="-1.8">3</tspan></text><text x="318.05" y="189.5" fill="#2828b8"><tspan font-size="4.8" font-weight="bold">10</tspan><tspan font-size="6.3" font-weight="bold" dy="-1.8">4</tspan></text><text x="338.3" y="189.5" fill="#2828b8"><tspan font-size="4.8" font-weight="bold">10</tspan><tspan font-size="6.3" font-weight="bold" dy="-1.8">4.6</tspan></text><text transform="translate(214.4 183.3) rotate(-90)" fill="#2828b8"><tspan font-size="4.8" font-weight="bold">10</tspan><tspan font-size="4.9" font-weight="bold" dy="-1.8">1.5</tspan></text><text transform="translate(214.4 168.51) rotate(-90)" fill="#2828b8"><tspan font-size="4.8" font-weight="bold">10</tspan><tspan font-size="6.3" font-weight="bold" dy="-1.8">2</tspan></text><text transform="translate(214.4 141.53) rotate(-90)" fill="#2828b8"><tspan font-size="4.8" font-weight="bold">10</tspan><tspan font-size="6.3" font-weight="bold" dy="-1.8">3</tspan></text><text transform="translate(214.4 114.56) rotate(-90)" fill="#2828b8"><tspan font-size="4.8" font-weight="bold">10</tspan><tspan font-size="6.3" font-weight="bold" dy="-1.8">4</tspan></text><text transform="translate(214.4 87.58) rotate(-90)" fill="#2828b8"><tspan font-size="4.8" font-weight="bold">10</tspan><tspan font-size="6.3" font-weight="bold" dy="-1.8">5</tspan></text><text transform="translate(214.4 60.6) rotate(-90)" fill="#2828b8"><tspan font-size="4.8" font-weight="bold">10</tspan><tspan font-size="6.3" font-weight="bold" dy="-1.8">6</tspan></text><text x="282.75" y="198.1" font-size="6.8" font-weight="bold" text-anchor="middle" fill="#111">annx-H</text><text transform="translate(204.8 130.2) rotate(-90)" font-size="6.8" font-weight="bold" text-anchor="middle" fill="#111">PI-H</text><g font-size="8.7" fill="#a82c4c"><text x="222.4" y="63.4">Q2-UL</text><text x="222.4" y="71.8">0.1%</text><text x="342.5" y="63.4" text-anchor="end">Q2-UR</text><text x="315.43" y="71.8">6.9%</text><text x="222.4" y="168.4">Q2-LL</text><text x="222.4" y="176.5">83.3%</text><text x="342.5" y="168.4" text-anchor="end">Q2-LR</text><text x="316.88" y="176.5">9.7%</text></g><path d="M381.4 101H503.9M445 51.5V174.3" stroke="#a83a58" stroke-width="1.1" fill="none"/><path d="M381.4 174.3v3.5M391.64 174.3v3.5M397.64 174.3v3.5M401.89 174.3v3.5M405.18 174.3v3.5M407.88 174.3v3.5M410.16 174.3v3.5M412.13 174.3v3.5M413.87 174.3v3.5M415.43 174.3v3.5M425.67 174.3v3.5M431.66 174.3v3.5M435.91 174.3v3.5M439.21 174.3v3.5M441.91 174.3v3.5M444.18 174.3v3.5M446.16 174.3v3.5M447.9 174.3v3.5M449.46 174.3v3.5M459.7 174.3v3.5M465.69 174.3v3.5M469.94 174.3v3.5M473.24 174.3v3.5M475.93 174.3v3.5M478.21 174.3v3.5M480.19 174.3v3.5M481.93 174.3v3.5M483.48 174.3v3.5M493.73 174.3v3.5M499.72 174.3v3.5M503.9 174.3v3.5M381.4 171.51h-3.8M381.4 168.87h-3.8M381.4 166.71h-3.8M381.4 164.88h-3.8M381.4 163.3h-3.8M381.4 161.9h-3.8M381.4 160.66h-3.8M381.4 152.44h-3.8M381.4 147.64h-3.8M381.4 144.23h-3.8M381.4 141.58h-3.8M381.4 139.42h-3.8M381.4 137.59h-3.8M381.4 136.01h-3.8M381.4 134.62h-3.8M381.4 133.37h-3.8M381.4 125.15h-3.8M381.4 120.35h-3.8M381.4 116.94h-3.8M381.4 114.29h-3.8M381.4 112.13h-3.8M381.4 110.3h-3.8M381.4 108.72h-3.8M381.4 107.33h-3.8M381.4 106.08h-3.8M381.4 97.86h-3.8M381.4 93.06h-3.8M381.4 89.65h-3.8M381.4 87h-3.8M381.4 84.84h-3.8M381.4 83.02h-3.8M381.4 81.43h-3.8M381.4 80.04h-3.8M381.4 78.79h-3.8M381.4 70.57h-3.8M381.4 65.77h-3.8M381.4 62.36h-3.8M381.4 59.71h-3.8M381.4 57.55h-3.8M381.4 55.73h-3.8M381.4 54.14h-3.8M381.4 52.75h-3.8M381.4 51.5h-3.8M381.4 174.3h-3.8" stroke="#2828b8" stroke-width="0.9" fill="none"/><rect x="381.4" y="51.5" width="122.5" height="122.8" fill="none" stroke="#4343c6" stroke-width="1.1"/><text x="376.8" y="186.5" fill="#2828b8"><tspan font-size="4.8" font-weight="bold">10</tspan><tspan font-size="6.3" font-weight="bold" dy="-1.8">1</tspan></text><text x="410.83" y="186.5" fill="#2828b8"><tspan font-size="4.8" font-weight="bold">10</tspan><tspan font-size="6.3" font-weight="bold" dy="-1.8">2</tspan></text><text x="444.86" y="186.5" fill="#2828b8"><tspan font-size="4.8" font-weight="bold">10</tspan><tspan font-size="6.3" font-weight="bold" dy="-1.8">3</tspan></text><text x="478.88" y="186.5" fill="#2828b8"><tspan font-size="4.8" font-weight="bold">10</tspan><tspan font-size="6.3" font-weight="bold" dy="-1.8">4</tspan></text><text x="499.3" y="186.5" fill="#2828b8"><tspan font-size="4.8" font-weight="bold">10</tspan><tspan font-size="6.3" font-weight="bold" dy="-1.8">4.6</tspan></text><text transform="translate(374.4 180.3) rotate(-90)" fill="#2828b8"><tspan font-size="4.8" font-weight="bold">10</tspan><tspan font-size="4.9" font-weight="bold" dy="-1.8">1.5</tspan></text><text transform="translate(374.4 165.36) rotate(-90)" fill="#2828b8"><tspan font-size="4.8" font-weight="bold">10</tspan><tspan font-size="6.3" font-weight="bold" dy="-1.8">2</tspan></text><text transform="translate(374.4 138.07) rotate(-90)" fill="#2828b8"><tspan font-size="4.8" font-weight="bold">10</tspan><tspan font-size="6.3" font-weight="bold" dy="-1.8">3</tspan></text><text transform="translate(374.4 110.78) rotate(-90)" fill="#2828b8"><tspan font-size="4.8" font-weight="bold">10</tspan><tspan font-size="6.3" font-weight="bold" dy="-1.8">4</tspan></text><text transform="translate(374.4 83.49) rotate(-90)" fill="#2828b8"><tspan font-size="4.8" font-weight="bold">10</tspan><tspan font-size="6.3" font-weight="bold" dy="-1.8">5</tspan></text><text transform="translate(374.4 56.2) rotate(-90)" fill="#2828b8"><tspan font-size="4.8" font-weight="bold">10</tspan><tspan font-size="6.3" font-weight="bold" dy="-1.8">6</tspan></text><text x="443.25" y="195.1" font-size="6.8" font-weight="bold" text-anchor="middle" fill="#111">annx-H</text><text transform="translate(364.8 126.5) rotate(-90)" font-size="6.8" font-weight="bold" text-anchor="middle" fill="#111">PI-H</text><g font-size="8.7" fill="#a82c4c"><text x="382.4" y="59">Q2-UL</text><text x="382.4" y="67.4">0.3%</text><text x="503.5" y="59" text-anchor="end">Q2-UR</text><text x="476.43" y="67.4">8.5%</text><text x="382.4" y="165.4">Q2-LL</text><text x="382.4" y="173.5">87.2%</text><text x="503.5" y="165.4" text-anchor="end">Q2-LR</text><text x="477.88" y="173.5">4.0%</text></g><path d="M550.4 102.2H671.9M613.7 53.2V174.8" stroke="#a83a58" stroke-width="1.1" fill="none"/><path d="M550.4 174.8v3.5M560.56 174.8v3.5M566.5 174.8v3.5M570.72 174.8v3.5M573.99 174.8v3.5M576.66 174.8v3.5M578.92 174.8v3.5M580.88 174.8v3.5M582.61 174.8v3.5M584.15 174.8v3.5M594.31 174.8v3.5M600.25 174.8v3.5M604.47 174.8v3.5M607.74 174.8v3.5M610.41 174.8v3.5M612.67 174.8v3.5M614.63 174.8v3.5M616.36 174.8v3.5M617.9 174.8v3.5M628.06 174.8v3.5M634 174.8v3.5M638.22 174.8v3.5M641.49 174.8v3.5M644.16 174.8v3.5M646.42 174.8v3.5M648.38 174.8v3.5M650.11 174.8v3.5M651.65 174.8v3.5M661.81 174.8v3.5M667.75 174.8v3.5M671.9 174.8v3.5M550.4 172.04h-3.8M550.4 169.42h-3.8M550.4 167.28h-3.8M550.4 165.47h-3.8M550.4 163.91h-3.8M550.4 162.53h-3.8M550.4 161.29h-3.8M550.4 153.15h-3.8M550.4 148.4h-3.8M550.4 145.02h-3.8M550.4 142.4h-3.8M550.4 140.26h-3.8M550.4 138.45h-3.8M550.4 136.89h-3.8M550.4 135.5h-3.8M550.4 134.27h-3.8M550.4 126.13h-3.8M550.4 121.37h-3.8M550.4 118h-3.8M550.4 115.38h-3.8M550.4 113.24h-3.8M550.4 111.43h-3.8M550.4 109.86h-3.8M550.4 108.48h-3.8M550.4 107.24h-3.8M550.4 99.11h-3.8M550.4 94.35h-3.8M550.4 90.98h-3.8M550.4 88.36h-3.8M550.4 86.22h-3.8M550.4 84.41h-3.8M550.4 82.84h-3.8M550.4 81.46h-3.8M550.4 80.22h-3.8M550.4 72.09h-3.8M550.4 67.33h-3.8M550.4 63.95h-3.8M550.4 61.33h-3.8M550.4 59.19h-3.8M550.4 57.39h-3.8M550.4 55.82h-3.8M550.4 54.44h-3.8M550.4 53.2h-3.8M550.4 174.8h-3.8" stroke="#2828b8" stroke-width="0.9" fill="none"/><rect x="550.4" y="53.2" width="121.5" height="121.6" fill="none" stroke="#4343c6" stroke-width="1.1"/><text x="545.8" y="187" fill="#2828b8"><tspan font-size="4.8" font-weight="bold">10</tspan><tspan font-size="6.3" font-weight="bold" dy="-1.8">1</tspan></text><text x="579.55" y="187" fill="#2828b8"><tspan font-size="4.8" font-weight="bold">10</tspan><tspan font-size="6.3" font-weight="bold" dy="-1.8">2</tspan></text><text x="613.3" y="187" fill="#2828b8"><tspan font-size="4.8" font-weight="bold">10</tspan><tspan font-size="6.3" font-weight="bold" dy="-1.8">3</tspan></text><text x="647.05" y="187" fill="#2828b8"><tspan font-size="4.8" font-weight="bold">10</tspan><tspan font-size="6.3" font-weight="bold" dy="-1.8">4</tspan></text><text x="667.3" y="187" fill="#2828b8"><tspan font-size="4.8" font-weight="bold">10</tspan><tspan font-size="6.3" font-weight="bold" dy="-1.8">4.6</tspan></text><text transform="translate(543.4 180.8) rotate(-90)" fill="#2828b8"><tspan font-size="4.8" font-weight="bold">10</tspan><tspan font-size="4.9" font-weight="bold" dy="-1.8">1.5</tspan></text><text transform="translate(543.4 165.99) rotate(-90)" fill="#2828b8"><tspan font-size="4.8" font-weight="bold">10</tspan><tspan font-size="6.3" font-weight="bold" dy="-1.8">2</tspan></text><text transform="translate(543.4 138.97) rotate(-90)" fill="#2828b8"><tspan font-size="4.8" font-weight="bold">10</tspan><tspan font-size="6.3" font-weight="bold" dy="-1.8">3</tspan></text><text transform="translate(543.4 111.94) rotate(-90)" fill="#2828b8"><tspan font-size="4.8" font-weight="bold">10</tspan><tspan font-size="6.3" font-weight="bold" dy="-1.8">4</tspan></text><text transform="translate(543.4 84.92) rotate(-90)" fill="#2828b8"><tspan font-size="4.8" font-weight="bold">10</tspan><tspan font-size="6.3" font-weight="bold" dy="-1.8">5</tspan></text><text transform="translate(543.4 57.9) rotate(-90)" fill="#2828b8"><tspan font-size="4.8" font-weight="bold">10</tspan><tspan font-size="6.3" font-weight="bold" dy="-1.8">6</tspan></text><text x="611.75" y="195.6" font-size="6.8" font-weight="bold" text-anchor="middle" fill="#111">annx-H</text><text transform="translate(533.8 127.6) rotate(-90)" font-size="6.8" font-weight="bold" text-anchor="middle" fill="#111">PI-H</text><g font-size="8.7" fill="#a82c4c"><text x="551.4" y="60.7">Q2-UL</text><text x="551.4" y="69.1">0.0%</text><text x="671.5" y="60.7" text-anchor="end">Q2-UR</text><text x="644.43" y="69.1">12.5%</text><text x="551.4" y="165.9">Q2-LL</text><text x="551.4" y="174">71.0%</text><text x="671.5" y="165.9" text-anchor="end">Q2-LR</text><text x="645.88" y="174">16.5%</text></g><path d="M53.1 337.3H174.9M116.3 288.5V410.4" stroke="#a83a58" stroke-width="1.1" fill="none"/><path d="M53.1 410.4v3.5M63.28 410.4v3.5M69.24 410.4v3.5M73.47 410.4v3.5M76.75 410.4v3.5M79.43 410.4v3.5M81.69 410.4v3.5M83.65 410.4v3.5M85.39 410.4v3.5M86.93 410.4v3.5M97.12 410.4v3.5M103.08 410.4v3.5M107.3 410.4v3.5M110.58 410.4v3.5M113.26 410.4v3.5M115.53 410.4v3.5M117.49 410.4v3.5M119.22 410.4v3.5M120.77 410.4v3.5M130.95 410.4v3.5M136.91 410.4v3.5M141.14 410.4v3.5M144.42 410.4v3.5M147.09 410.4v3.5M149.36 410.4v3.5M151.32 410.4v3.5M153.05 410.4v3.5M154.6 410.4v3.5M164.78 410.4v3.5M170.74 410.4v3.5M174.9 410.4v3.5M53.1 407.64h-3.8M53.1 405.01h-3.8M53.1 402.87h-3.8M53.1 401.05h-3.8M53.1 399.48h-3.8M53.1 398.1h-3.8M53.1 396.86h-3.8M53.1 388.7h-3.8M53.1 383.93h-3.8M53.1 380.55h-3.8M53.1 377.92h-3.8M53.1 375.78h-3.8M53.1 373.96h-3.8M53.1 372.39h-3.8M53.1 371.01h-3.8M53.1 369.77h-3.8M53.1 361.61h-3.8M53.1 356.84h-3.8M53.1 353.46h-3.8M53.1 350.83h-3.8M53.1 348.69h-3.8M53.1 346.87h-3.8M53.1 345.3h-3.8M53.1 343.92h-3.8M53.1 342.68h-3.8M53.1 334.52h-3.8M53.1 329.75h-3.8M53.1 326.37h-3.8M53.1 323.74h-3.8M53.1 321.6h-3.8M53.1 319.79h-3.8M53.1 318.21h-3.8M53.1 316.83h-3.8M53.1 315.59h-3.8M53.1 307.43h-3.8M53.1 302.66h-3.8M53.1 299.28h-3.8M53.1 296.65h-3.8M53.1 294.51h-3.8M53.1 292.7h-3.8M53.1 291.13h-3.8M53.1 289.74h-3.8M53.1 288.5h-3.8M53.1 410.4h-3.8" stroke="#2828b8" stroke-width="0.9" fill="none"/><rect x="53.1" y="288.5" width="121.8" height="121.9" fill="none" stroke="#4343c6" stroke-width="1.1"/><text x="48.5" y="422.6" fill="#2828b8"><tspan font-size="4.8" font-weight="bold">10</tspan><tspan font-size="6.3" font-weight="bold" dy="-1.8">1</tspan></text><text x="82.33" y="422.6" fill="#2828b8"><tspan font-size="4.8" font-weight="bold">10</tspan><tspan font-size="6.3" font-weight="bold" dy="-1.8">2</tspan></text><text x="116.17" y="422.6" fill="#2828b8"><tspan font-size="4.8" font-weight="bold">10</tspan><tspan font-size="6.3" font-weight="bold" dy="-1.8">3</tspan></text><text x="150" y="422.6" fill="#2828b8"><tspan font-size="4.8" font-weight="bold">10</tspan><tspan font-size="6.3" font-weight="bold" dy="-1.8">4</tspan></text><text x="170.3" y="422.6" fill="#2828b8"><tspan font-size="4.8" font-weight="bold">10</tspan><tspan font-size="6.3" font-weight="bold" dy="-1.8">4.6</tspan></text><text transform="translate(46.1 416.4) rotate(-90)" fill="#2828b8"><tspan font-size="4.8" font-weight="bold">10</tspan><tspan font-size="4.9" font-weight="bold" dy="-1.8">1.5</tspan></text><text transform="translate(46.1 401.56) rotate(-90)" fill="#2828b8"><tspan font-size="4.8" font-weight="bold">10</tspan><tspan font-size="6.3" font-weight="bold" dy="-1.8">2</tspan></text><text transform="translate(46.1 374.47) rotate(-90)" fill="#2828b8"><tspan font-size="4.8" font-weight="bold">10</tspan><tspan font-size="6.3" font-weight="bold" dy="-1.8">3</tspan></text><text transform="translate(46.1 347.38) rotate(-90)" fill="#2828b8"><tspan font-size="4.8" font-weight="bold">10</tspan><tspan font-size="6.3" font-weight="bold" dy="-1.8">4</tspan></text><text transform="translate(46.1 320.29) rotate(-90)" fill="#2828b8"><tspan font-size="4.8" font-weight="bold">10</tspan><tspan font-size="6.3" font-weight="bold" dy="-1.8">5</tspan></text><text transform="translate(46.1 293.2) rotate(-90)" fill="#2828b8"><tspan font-size="4.8" font-weight="bold">10</tspan><tspan font-size="6.3" font-weight="bold" dy="-1.8">6</tspan></text><text x="114.6" y="431.2" font-size="6.8" font-weight="bold" text-anchor="middle" fill="#111">annx-H</text><text transform="translate(36.5 363.05) rotate(-90)" font-size="6.8" font-weight="bold" text-anchor="middle" fill="#111">PI-H</text><g font-size="8.7" fill="#a82c4c"><text x="54.1" y="296">Q2-UL</text><text x="54.1" y="304.4">0.3%</text><text x="174.5" y="296" text-anchor="end">Q2-UR</text><text x="147.43" y="304.4">37.5%</text><text x="54.1" y="401.5">Q2-LL</text><text x="54.1" y="409.6">58.1%</text><text x="174.5" y="401.5" text-anchor="end">Q2-LR</text><text x="148.88" y="409.6">4.1%</text></g><path d="M220.6 339.1H342.1M283.8 290.4V411.7" stroke="#a83a58" stroke-width="1.1" fill="none"/><path d="M220.6 411.7v3.5M230.76 411.7v3.5M236.7 411.7v3.5M240.92 411.7v3.5M244.19 411.7v3.5M246.86 411.7v3.5M249.12 411.7v3.5M251.08 411.7v3.5M252.81 411.7v3.5M254.35 411.7v3.5M264.51 411.7v3.5M270.45 411.7v3.5M274.67 411.7v3.5M277.94 411.7v3.5M280.61 411.7v3.5M282.87 411.7v3.5M284.83 411.7v3.5M286.56 411.7v3.5M288.1 411.7v3.5M298.26 411.7v3.5M304.2 411.7v3.5M308.42 411.7v3.5M311.69 411.7v3.5M314.36 411.7v3.5M316.62 411.7v3.5M318.58 411.7v3.5M320.31 411.7v3.5M321.85 411.7v3.5M332.01 411.7v3.5M337.95 411.7v3.5M342.1 411.7v3.5M220.6 408.95h-3.8M220.6 406.34h-3.8M220.6 404.2h-3.8M220.6 402.4h-3.8M220.6 400.83h-3.8M220.6 399.46h-3.8M220.6 398.22h-3.8M220.6 390.11h-3.8M220.6 385.36h-3.8M220.6 381.99h-3.8M220.6 379.38h-3.8M220.6 377.25h-3.8M220.6 375.44h-3.8M220.6 373.88h-3.8M220.6 372.5h-3.8M220.6 371.27h-3.8M220.6 363.15h-3.8M220.6 358.41h-3.8M220.6 355.04h-3.8M220.6 352.43h-3.8M220.6 350.29h-3.8M220.6 348.49h-3.8M220.6 346.92h-3.8M220.6 345.54h-3.8M220.6 344.31h-3.8M220.6 336.2h-3.8M220.6 331.45h-3.8M220.6 328.08h-3.8M220.6 325.47h-3.8M220.6 323.34h-3.8M220.6 321.53h-3.8M220.6 319.97h-3.8M220.6 318.59h-3.8M220.6 317.36h-3.8M220.6 309.24h-3.8M220.6 304.49h-3.8M220.6 301.13h-3.8M220.6 298.51h-3.8M220.6 296.38h-3.8M220.6 294.58h-3.8M220.6 293.01h-3.8M220.6 291.63h-3.8M220.6 290.4h-3.8M220.6 411.7h-3.8" stroke="#2828b8" stroke-width="0.9" fill="none"/><rect x="220.6" y="290.4" width="121.5" height="121.3" fill="none" stroke="#4343c6" stroke-width="1.1"/><text x="216" y="423.9" fill="#2828b8"><tspan font-size="4.8" font-weight="bold">10</tspan><tspan font-size="6.3" font-weight="bold" dy="-1.8">1</tspan></text><text x="249.75" y="423.9" fill="#2828b8"><tspan font-size="4.8" font-weight="bold">10</tspan><tspan font-size="6.3" font-weight="bold" dy="-1.8">2</tspan></text><text x="283.5" y="423.9" fill="#2828b8"><tspan font-size="4.8" font-weight="bold">10</tspan><tspan font-size="6.3" font-weight="bold" dy="-1.8">3</tspan></text><text x="317.25" y="423.9" fill="#2828b8"><tspan font-size="4.8" font-weight="bold">10</tspan><tspan font-size="6.3" font-weight="bold" dy="-1.8">4</tspan></text><text x="337.5" y="423.9" fill="#2828b8"><tspan font-size="4.8" font-weight="bold">10</tspan><tspan font-size="6.3" font-weight="bold" dy="-1.8">4.6</tspan></text><text transform="translate(213.6 417.7) rotate(-90)" fill="#2828b8"><tspan font-size="4.8" font-weight="bold">10</tspan><tspan font-size="4.9" font-weight="bold" dy="-1.8">1.5</tspan></text><text transform="translate(213.6 402.92) rotate(-90)" fill="#2828b8"><tspan font-size="4.8" font-weight="bold">10</tspan><tspan font-size="6.3" font-weight="bold" dy="-1.8">2</tspan></text><text transform="translate(213.6 375.97) rotate(-90)" fill="#2828b8"><tspan font-size="4.8" font-weight="bold">10</tspan><tspan font-size="6.3" font-weight="bold" dy="-1.8">3</tspan></text><text transform="translate(213.6 349.01) rotate(-90)" fill="#2828b8"><tspan font-size="4.8" font-weight="bold">10</tspan><tspan font-size="6.3" font-weight="bold" dy="-1.8">4</tspan></text><text transform="translate(213.6 322.06) rotate(-90)" fill="#2828b8"><tspan font-size="4.8" font-weight="bold">10</tspan><tspan font-size="6.3" font-weight="bold" dy="-1.8">5</tspan></text><text transform="translate(213.6 295.1) rotate(-90)" fill="#2828b8"><tspan font-size="4.8" font-weight="bold">10</tspan><tspan font-size="6.3" font-weight="bold" dy="-1.8">6</tspan></text><text x="281.95" y="432.5" font-size="6.8" font-weight="bold" text-anchor="middle" fill="#111">annx-H</text><text transform="translate(204 364.65) rotate(-90)" font-size="6.8" font-weight="bold" text-anchor="middle" fill="#111">PI-H</text><g font-size="8.7" fill="#a82c4c"><text x="221.6" y="297.9">Q2-UL</text><text x="221.6" y="306.3">0.1%</text><text x="341.7" y="297.9" text-anchor="end">Q2-UR</text><text x="314.63" y="306.3">33.3%</text><text x="221.6" y="402.8">Q2-LL</text><text x="221.6" y="410.9">56.3%</text><text x="341.7" y="402.8" text-anchor="end">Q2-LR</text><text x="316.08" y="410.9">10.3%</text></g><path d="M397.9 342.5H519.5M461.3 293.5V414.9" stroke="#a83a58" stroke-width="1.1" fill="none"/><path d="M397.9 414.9v3.5M408.07 414.9v3.5M414.02 414.9v3.5M418.24 414.9v3.5M421.51 414.9v3.5M424.18 414.9v3.5M426.45 414.9v3.5M428.4 414.9v3.5M430.13 414.9v3.5M431.68 414.9v3.5M441.85 414.9v3.5M447.79 414.9v3.5M452.01 414.9v3.5M455.29 414.9v3.5M457.96 414.9v3.5M460.22 414.9v3.5M462.18 414.9v3.5M463.91 414.9v3.5M465.46 414.9v3.5M475.62 414.9v3.5M481.57 414.9v3.5M485.79 414.9v3.5M489.07 414.9v3.5M491.74 414.9v3.5M494 414.9v3.5M495.96 414.9v3.5M497.69 414.9v3.5M499.23 414.9v3.5M509.4 414.9v3.5M515.35 414.9v3.5M519.5 414.9v3.5M397.9 412.15h-3.8M397.9 409.53h-3.8M397.9 407.4h-3.8M397.9 405.59h-3.8M397.9 404.03h-3.8M397.9 402.65h-3.8M397.9 401.41h-3.8M397.9 393.29h-3.8M397.9 388.54h-3.8M397.9 385.17h-3.8M397.9 382.55h-3.8M397.9 380.42h-3.8M397.9 378.61h-3.8M397.9 377.05h-3.8M397.9 375.67h-3.8M397.9 374.43h-3.8M397.9 366.31h-3.8M397.9 361.56h-3.8M397.9 358.19h-3.8M397.9 355.58h-3.8M397.9 353.44h-3.8M397.9 351.63h-3.8M397.9 350.07h-3.8M397.9 348.69h-3.8M397.9 347.46h-3.8M397.9 339.33h-3.8M397.9 334.58h-3.8M397.9 331.21h-3.8M397.9 328.6h-3.8M397.9 326.46h-3.8M397.9 324.66h-3.8M397.9 323.09h-3.8M397.9 321.71h-3.8M397.9 320.48h-3.8M397.9 312.36h-3.8M397.9 307.61h-3.8M397.9 304.24h-3.8M397.9 301.62h-3.8M397.9 299.48h-3.8M397.9 297.68h-3.8M397.9 296.11h-3.8M397.9 294.73h-3.8M397.9 293.5h-3.8M397.9 414.9h-3.8" stroke="#2828b8" stroke-width="0.9" fill="none"/><rect x="397.9" y="293.5" width="121.6" height="121.4" fill="none" stroke="#4343c6" stroke-width="1.1"/><text x="393.3" y="427.1" fill="#2828b8"><tspan font-size="4.8" font-weight="bold">10</tspan><tspan font-size="6.3" font-weight="bold" dy="-1.8">1</tspan></text><text x="427.08" y="427.1" fill="#2828b8"><tspan font-size="4.8" font-weight="bold">10</tspan><tspan font-size="6.3" font-weight="bold" dy="-1.8">2</tspan></text><text x="460.86" y="427.1" fill="#2828b8"><tspan font-size="4.8" font-weight="bold">10</tspan><tspan font-size="6.3" font-weight="bold" dy="-1.8">3</tspan></text><text x="494.63" y="427.1" fill="#2828b8"><tspan font-size="4.8" font-weight="bold">10</tspan><tspan font-size="6.3" font-weight="bold" dy="-1.8">4</tspan></text><text x="514.9" y="427.1" fill="#2828b8"><tspan font-size="4.8" font-weight="bold">10</tspan><tspan font-size="6.3" font-weight="bold" dy="-1.8">4.6</tspan></text><text transform="translate(390.9 420.9) rotate(-90)" fill="#2828b8"><tspan font-size="4.8" font-weight="bold">10</tspan><tspan font-size="4.9" font-weight="bold" dy="-1.8">1.5</tspan></text><text transform="translate(390.9 406.11) rotate(-90)" fill="#2828b8"><tspan font-size="4.8" font-weight="bold">10</tspan><tspan font-size="6.3" font-weight="bold" dy="-1.8">2</tspan></text><text transform="translate(390.9 379.13) rotate(-90)" fill="#2828b8"><tspan font-size="4.8" font-weight="bold">10</tspan><tspan font-size="6.3" font-weight="bold" dy="-1.8">3</tspan></text><text transform="translate(390.9 352.16) rotate(-90)" fill="#2828b8"><tspan font-size="4.8" font-weight="bold">10</tspan><tspan font-size="6.3" font-weight="bold" dy="-1.8">4</tspan></text><text transform="translate(390.9 325.18) rotate(-90)" fill="#2828b8"><tspan font-size="4.8" font-weight="bold">10</tspan><tspan font-size="6.3" font-weight="bold" dy="-1.8">5</tspan></text><text transform="translate(390.9 298.2) rotate(-90)" fill="#2828b8"><tspan font-size="4.8" font-weight="bold">10</tspan><tspan font-size="6.3" font-weight="bold" dy="-1.8">6</tspan></text><text x="459.3" y="435.7" font-size="6.8" font-weight="bold" text-anchor="middle" fill="#111">annx-H</text><text transform="translate(381.3 367.8) rotate(-90)" font-size="6.8" font-weight="bold" text-anchor="middle" fill="#111">PI-H</text><g font-size="8.7" fill="#a82c4c"><text x="398.9" y="301">Q2-UL</text><text x="398.9" y="309.4">1.8%</text><text x="519.1" y="301" text-anchor="end">Q2-UR</text><text x="492.03" y="309.4">56.3%</text><text x="398.9" y="406">Q2-LL</text><text x="398.9" y="414.1">39.3%</text><text x="519.1" y="406" text-anchor="end">Q2-LR</text><text x="493.48" y="414.1">2.6%</text></g><g font-family='"Liberation Serif", serif' font-weight="bold" font-size="18.7" fill="#3b4661"><text x="78.0" y="223.0">Normal</text><text x="279.5" y="235.7">TEL</text><text x="427.5" y="240.1">LB</text><text x="604.5" y="238.3">CC</text><text x="73.3" y="465.5">CC/TEL</text><text x="244.0" y="473.8">CC/LB</text><text x="425.0" y="473.8">CC/TEL/LB</text></g></svg>
</body></html>
